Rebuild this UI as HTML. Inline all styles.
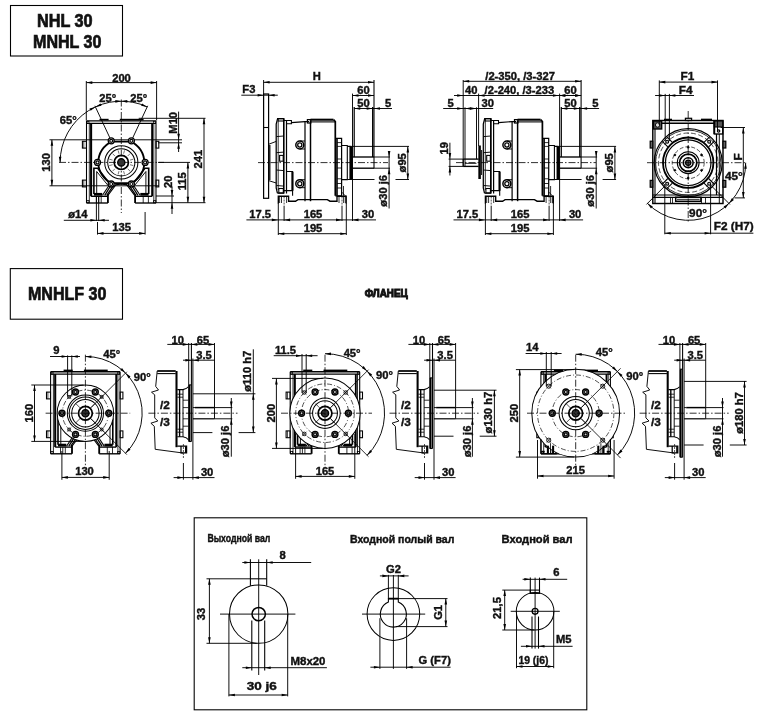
<!DOCTYPE html>
<html><head><meta charset="utf-8"><title>NHL 30</title>
<style>html,body{margin:0;padding:0;background:#fff}svg{display:block;will-change:transform;opacity:0.999}text{font-family:"Liberation Sans",sans-serif}</style>
</head><body>
<svg width="769" height="715" viewBox="0 0 769 715">
<rect x="0" y="0" width="769" height="715" fill="#fff"/>
<rect x="10.5" y="5.5" width="112.0" height="50.5" stroke="#000" stroke-width="1.08" fill="none"/>
<text transform="translate(64.8 27.4)" font-size="18.2" text-anchor="middle" font-weight="bold" fill="#111" stroke="#111" stroke-width="0.7" textLength="55.7" lengthAdjust="spacingAndGlyphs">NHL 30</text>
<text transform="translate(67.2 47.8)" font-size="18.2" text-anchor="middle" font-weight="bold" fill="#111" stroke="#111" stroke-width="0.7" textLength="68.4" lengthAdjust="spacingAndGlyphs">MNHL 30</text>
<line x1="86.3" y1="81.0" x2="86.3" y2="120.5" stroke="#000" stroke-width="0.94"/>
<line x1="156.6" y1="81.0" x2="156.6" y2="120.5" stroke="#000" stroke-width="0.94"/>
<line x1="86.3" y1="82.6" x2="156.6" y2="82.6" stroke="#000" stroke-width="0.94"/>
<polygon points="86.3,82.6 92.3,81.3 92.3,83.9" fill="#000"/>
<polygon points="156.6,82.6 150.6,83.9 150.6,81.3" fill="#000"/>
<text transform="translate(121.5 81.8)" font-size="11.2" text-anchor="middle" font-weight="bold" fill="#111" stroke="#111" stroke-width="0.4">200</text>
<path d="M60.1,162.4 A61.2,61.2 0 0 1 147.2,106.9" stroke="#000" stroke-width="0.94" fill="none"/>
<polygon points="60.1,162.7 58.8,156.7 61.4,156.7" fill="#000"/>
<line x1="110.3" y1="138.8" x2="94.9" y2="105.8" stroke="#000" stroke-width="0.94"/>
<line x1="132.3" y1="138.8" x2="147.7" y2="105.8" stroke="#000" stroke-width="0.94"/>
<polygon points="95.4,106.9 90.7,110.8 89.5,108.5" fill="#000"/>
<polygon points="95.4,106.9 100.5,103.4 101.5,105.8" fill="#000"/>
<polygon points="121.3,101.2 115.3,102.7 115.3,100.1" fill="#000"/>
<polygon points="121.3,101.2 127.3,100.1 127.3,102.7" fill="#000"/>
<polygon points="147.2,106.9 141.1,105.8 142.1,103.4" fill="#000"/>
<text transform="translate(107.8 101.8)" font-size="11.2" text-anchor="middle" font-weight="bold" fill="#111" stroke="#111" stroke-width="0.4">25°</text>
<text transform="translate(138.8 101.8)" font-size="11.2" text-anchor="middle" font-weight="bold" fill="#111" stroke="#111" stroke-width="0.4">25°</text>
<text transform="translate(68.3 123.5)" font-size="11.2" text-anchor="middle" font-weight="bold" fill="#111" stroke="#111" stroke-width="0.4">65°</text>
<line x1="121.3" y1="99.5" x2="121.3" y2="213.0" stroke="#000" stroke-width="0.81" stroke-dasharray="7 2 1.5 2"/>
<line x1="59.0" y1="162.4" x2="164.0" y2="162.4" stroke="#000" stroke-width="0.81" stroke-dasharray="7 2 1.5 2"/>
<line x1="49.5" y1="139.8" x2="182.0" y2="139.8" stroke="#000" stroke-width="0.94"/>
<line x1="49.5" y1="185.8" x2="159.0" y2="185.8" stroke="#000" stroke-width="0.94"/>
<line x1="51.9" y1="139.8" x2="51.9" y2="185.8" stroke="#000" stroke-width="0.94"/>
<polygon points="51.9,139.8 53.2,145.8 50.6,145.8" fill="#000"/>
<polygon points="51.9,185.8 50.6,179.8 53.2,179.8" fill="#000"/>
<text transform="translate(50.0 162.3) rotate(-90)" font-size="11.2" text-anchor="middle" font-weight="bold" fill="#111" stroke="#111" stroke-width="0.4">130</text>
<line x1="158.0" y1="142.8" x2="182.0" y2="142.8" stroke="#000" stroke-width="0.94"/>
<line x1="178.6" y1="111.6" x2="178.6" y2="152.0" stroke="#000" stroke-width="0.94"/>
<polygon points="178.6,139.8 177.3,133.8 179.9,133.8" fill="#000"/>
<polygon points="178.6,142.8 179.9,148.8 177.3,148.8" fill="#000"/>
<text transform="translate(176.8 122.8) rotate(-90)" font-size="11.2" text-anchor="middle" font-weight="bold" fill="#111" stroke="#111" stroke-width="0.4">M10</text>
<line x1="138.7" y1="118.3" x2="205.5" y2="118.3" stroke="#000" stroke-width="0.94"/>
<line x1="156.0" y1="202.7" x2="205.5" y2="202.7" stroke="#000" stroke-width="0.94"/>
<line x1="204.0" y1="118.3" x2="204.0" y2="202.7" stroke="#000" stroke-width="0.94"/>
<polygon points="204.0,118.3 205.3,124.3 202.7,124.3" fill="#000"/>
<polygon points="204.0,202.7 202.7,196.7 205.3,196.7" fill="#000"/>
<text transform="translate(201.8 159.2) rotate(-90)" font-size="11.2" text-anchor="middle" font-weight="bold" fill="#111" stroke="#111" stroke-width="0.4">241</text>
<line x1="158.0" y1="162.4" x2="190.0" y2="162.4" stroke="#000" stroke-width="0.94"/>
<line x1="187.9" y1="162.4" x2="187.9" y2="202.7" stroke="#000" stroke-width="0.94"/>
<polygon points="187.9,162.4 189.2,168.4 186.6,168.4" fill="#000"/>
<polygon points="187.9,202.7 186.6,196.7 189.2,196.7" fill="#000"/>
<text transform="translate(186.4 181.3) rotate(-90)" font-size="11.2" text-anchor="middle" font-weight="bold" fill="#111" stroke="#111" stroke-width="0.4">115</text>
<line x1="156.0" y1="196.0" x2="174.0" y2="196.0" stroke="#000" stroke-width="0.94"/>
<line x1="172.0" y1="186.5" x2="172.0" y2="214.0" stroke="#000" stroke-width="0.94"/>
<polygon points="172.0,196.0 170.7,190.0 173.3,190.0" fill="#000"/>
<polygon points="172.0,202.7 173.3,208.7 170.7,208.7" fill="#000"/>
<text transform="translate(171.6 181.8) rotate(-90)" font-size="11.2" text-anchor="middle" font-weight="bold" fill="#111" stroke="#111" stroke-width="0.4">20</text>
<text transform="translate(77.8 217.9)" font-size="11.2" text-anchor="middle" font-weight="bold" fill="#111" stroke="#111" stroke-width="0.4">ø14</text>
<line x1="63.8" y1="220.3" x2="109.0" y2="220.3" stroke="#000" stroke-width="0.94"/>
<polygon points="96.4,220.3 90.4,221.6 90.4,219.0" fill="#000"/>
<polygon points="98.7,220.3 104.7,219.0 104.7,221.6" fill="#000"/>
<line x1="96.4" y1="196.0" x2="96.4" y2="221.0" stroke="#000" stroke-width="0.94"/>
<line x1="98.7" y1="196.0" x2="98.7" y2="221.0" stroke="#000" stroke-width="0.94"/>
<line x1="97.5" y1="233.4" x2="145.1" y2="233.4" stroke="#000" stroke-width="0.94"/>
<polygon points="97.5,233.4 103.5,232.1 103.5,234.7" fill="#000"/>
<polygon points="145.1,233.4 139.1,234.7 139.1,232.1" fill="#000"/>
<line x1="97.5" y1="222.0" x2="97.5" y2="234.6" stroke="#000" stroke-width="0.94"/>
<line x1="145.1" y1="212.0" x2="145.1" y2="234.6" stroke="#000" stroke-width="0.94"/>
<text transform="translate(121.6 231.4)" font-size="11.2" text-anchor="middle" font-weight="bold" fill="#111" stroke="#111" stroke-width="0.4">135</text>
<line x1="86.5" y1="120.9" x2="156.0" y2="120.9" stroke="#000" stroke-width="1.35"/>
<line x1="86.5" y1="123.3" x2="156.0" y2="123.3" stroke="#000" stroke-width="1.35"/>
<line x1="99.5" y1="119.6" x2="108.6" y2="119.6" stroke="#000" stroke-width="1.61"/>
<line x1="119.8" y1="119.6" x2="143.6" y2="119.6" stroke="#000" stroke-width="1.61"/>
<line x1="86.5" y1="120.9" x2="86.5" y2="203.0" stroke="#000" stroke-width="1.08"/>
<line x1="156.0" y1="120.9" x2="156.0" y2="203.0" stroke="#000" stroke-width="1.08"/>
<line x1="91.1" y1="123.3" x2="91.1" y2="196.3" stroke="#000" stroke-width="2.07"/>
<line x1="152.1" y1="123.3" x2="152.1" y2="196.3" stroke="#000" stroke-width="1.84"/>
<line x1="89.3" y1="123.3" x2="89.3" y2="203.0" stroke="#000" stroke-width="0.81"/>
<line x1="153.8" y1="123.3" x2="153.8" y2="203.0" stroke="#000" stroke-width="0.81"/>
<line x1="86.5" y1="203.0" x2="107.9" y2="203.0" stroke="#000" stroke-width="1.35"/>
<line x1="135.1" y1="203.0" x2="156.0" y2="203.0" stroke="#000" stroke-width="1.35"/>
<line x1="91.1" y1="196.3" x2="107.9" y2="196.3" stroke="#000" stroke-width="1.35"/>
<line x1="135.1" y1="196.3" x2="152.1" y2="196.3" stroke="#000" stroke-width="1.35"/>
<line x1="107.9" y1="194.3" x2="107.9" y2="203.0" stroke="#000" stroke-width="1.84"/>
<line x1="135.1" y1="194.3" x2="135.1" y2="203.0" stroke="#000" stroke-width="1.84"/>
<rect x="86.8" y="200.6" width="2.2" height="2.2" stroke="#000" stroke-width="0.81" fill="none"/>
<rect x="153.6" y="200.6" width="2.2" height="2.2" stroke="#000" stroke-width="0.81" fill="none"/>
<rect x="87.0" y="121.3" width="2.0" height="2.0" stroke="#000" stroke-width="0.68" fill="none"/>
<rect x="153.6" y="121.3" width="2.0" height="2.0" stroke="#000" stroke-width="0.68" fill="none"/>
<line x1="93.9" y1="194.3" x2="102.2" y2="194.3" stroke="#000" stroke-width="2.76"/>
<line x1="140.3" y1="194.3" x2="148.6" y2="194.3" stroke="#000" stroke-width="2.76"/>
<line x1="143.2" y1="196.3" x2="143.2" y2="203.0" stroke="#000" stroke-width="0.81"/>
<line x1="148.4" y1="196.3" x2="148.4" y2="203.0" stroke="#000" stroke-width="0.81"/>
<line x1="96.4" y1="196.3" x2="96.4" y2="203.0" stroke="#000" stroke-width="0.81"/>
<line x1="98.7" y1="196.3" x2="98.7" y2="203.0" stroke="#000" stroke-width="0.81"/>
<line x1="101.2" y1="196.3" x2="101.2" y2="203.0" stroke="#000" stroke-width="0.81"/>
<rect x="82.4" y="141.3" width="4.0" height="6.8" stroke="#000" stroke-width="1.08" fill="none"/>
<rect x="156.0" y="141.3" width="2.8" height="6.8" stroke="#000" stroke-width="1.08" fill="none"/>
<line x1="83.8" y1="141.3" x2="83.8" y2="148.1" stroke="#000" stroke-width="0.68"/>
<rect x="82.4" y="180.1" width="4.0" height="6.8" stroke="#000" stroke-width="1.08" fill="none"/>
<rect x="156.0" y="180.1" width="2.8" height="6.8" stroke="#000" stroke-width="1.08" fill="none"/>
<line x1="83.8" y1="180.1" x2="83.8" y2="186.9" stroke="#000" stroke-width="0.68"/>
<path d="M93.9,194.0 L93.9,168.2 L97.7,168.2 L108.3,182.0" stroke="#000" stroke-width="1.61" fill="none"/>
<path d="M96.7,194.0 L96.7,171.5 L107.8,185.2" stroke="#000" stroke-width="0.94" fill="none"/>
<path d="M111.8,184.0 L104.7,195.3" stroke="#000" stroke-width="1.26" fill="none"/>
<path d="M110.0,184.0 L102.5,195.3" stroke="#000" stroke-width="1.08" fill="none"/>
<path d="M113.7,185.2 L106.7,195.3" stroke="#000" stroke-width="1.26" fill="none"/>
<path d="M115.6,185.2 L107.9,195.3" stroke="#000" stroke-width="1.08" fill="none"/>
<path d="M115.5,185.2 L116.8,183.3" stroke="#000" stroke-width="1.08" fill="none"/>
<path d="M148.7,194.0 L148.7,168.2 L144.9,168.2 L134.3,182.0" stroke="#000" stroke-width="1.61" fill="none"/>
<path d="M145.9,194.0 L145.9,171.5 L134.8,185.2" stroke="#000" stroke-width="0.94" fill="none"/>
<path d="M130.8,184.0 L137.9,195.3" stroke="#000" stroke-width="1.26" fill="none"/>
<path d="M132.6,184.0 L140.1,195.3" stroke="#000" stroke-width="1.08" fill="none"/>
<path d="M128.9,185.2 L135.9,195.3" stroke="#000" stroke-width="1.26" fill="none"/>
<path d="M127.0,185.2 L134.7,195.3" stroke="#000" stroke-width="1.08" fill="none"/>
<path d="M127.1,185.2 L125.8,183.3" stroke="#000" stroke-width="1.08" fill="none"/>
<path d="M115.3,185.0 Q121.3,183.2 127.3,185.0" stroke="#000" stroke-width="1.08" fill="none"/>
<path d="M111.6,141.6 L131.0,141.6 A23.0,23.0 0 0 1 144.3,162.4 A23.0,23.0 0 0 1 131.0,183.2 L111.6,183.2 A23.0,23.0 0 0 1 98.3,162.4 A23.0,23.0 0 0 1 111.6,141.6 Z" stroke="#000" stroke-width="1.84" fill="none"/>
<circle cx="121.3" cy="162.4" r="16.6" stroke="#000" stroke-width="1.01" fill="none"/>
<circle cx="121.3" cy="162.4" r="13.6" stroke="#000" stroke-width="1.01" fill="none"/>
<circle cx="121.3" cy="162.4" r="7.1" stroke="#000" stroke-width="1.72" fill="none"/>
<circle cx="121.3" cy="162.4" r="3.6" stroke="#000" stroke-width="1.35" fill="#333"/>
<line x1="130.0" y1="164.7" x2="133.3" y2="165.6" stroke="#000" stroke-width="0.54"/>
<line x1="127.7" y1="168.8" x2="130.1" y2="171.2" stroke="#000" stroke-width="0.54"/>
<line x1="123.6" y1="171.1" x2="124.5" y2="174.4" stroke="#000" stroke-width="0.54"/>
<line x1="119.0" y1="171.1" x2="118.1" y2="174.4" stroke="#000" stroke-width="0.54"/>
<line x1="114.9" y1="168.8" x2="112.5" y2="171.2" stroke="#000" stroke-width="0.54"/>
<line x1="112.6" y1="164.7" x2="109.3" y2="165.6" stroke="#000" stroke-width="0.54"/>
<line x1="112.6" y1="160.1" x2="109.3" y2="159.2" stroke="#000" stroke-width="0.54"/>
<line x1="114.9" y1="156.0" x2="112.5" y2="153.6" stroke="#000" stroke-width="0.54"/>
<line x1="119.0" y1="153.7" x2="118.1" y2="150.4" stroke="#000" stroke-width="0.54"/>
<line x1="123.6" y1="153.7" x2="124.5" y2="150.4" stroke="#000" stroke-width="0.54"/>
<line x1="127.7" y1="156.0" x2="130.1" y2="153.6" stroke="#000" stroke-width="0.54"/>
<line x1="130.0" y1="160.1" x2="133.3" y2="159.2" stroke="#000" stroke-width="0.54"/>
<circle cx="145.1" cy="162.4" r="3.0" stroke="#000" stroke-width="1.26" fill="#fff"/>
<circle cx="145.1" cy="162.4" r="1.5" stroke="#000" stroke-width="1.22" fill="none"/>
<circle cx="97.5" cy="162.4" r="3.0" stroke="#000" stroke-width="1.26" fill="#fff"/>
<circle cx="97.5" cy="162.4" r="1.5" stroke="#000" stroke-width="1.22" fill="none"/>
<circle cx="131.4" cy="140.8" r="3.0" stroke="#000" stroke-width="1.26" fill="#fff"/>
<circle cx="131.4" cy="140.8" r="1.5" stroke="#000" stroke-width="1.22" fill="none"/>
<circle cx="111.2" cy="140.8" r="3.0" stroke="#000" stroke-width="1.26" fill="#fff"/>
<circle cx="111.2" cy="140.8" r="1.5" stroke="#000" stroke-width="1.22" fill="none"/>
<circle cx="131.4" cy="184.0" r="3.0" stroke="#000" stroke-width="1.26" fill="#fff"/>
<circle cx="131.4" cy="184.0" r="1.5" stroke="#000" stroke-width="1.22" fill="none"/>
<circle cx="111.2" cy="184.0" r="3.0" stroke="#000" stroke-width="1.26" fill="#fff"/>
<circle cx="111.2" cy="184.0" r="1.5" stroke="#000" stroke-width="1.22" fill="none"/>
<path d="M277.4,193.2 L276.2,188.0 L276.2,124.0 L277.6,118.7 L283.7,118.7 L283.7,193.2 L277.4,193.2" stroke="#000" stroke-width="1.26" fill="none"/>
<line x1="278.2" y1="121.0" x2="278.2" y2="190.0" stroke="#000" stroke-width="0.81"/>
<rect x="278.2" y="118.7" width="5.5" height="2.3" stroke="#000" stroke-width="1.08" fill="none"/>
<rect x="278.8" y="188.5" width="4.5" height="4.5" stroke="#000" stroke-width="1.08" fill="none"/>
<line x1="276.4" y1="136.6" x2="283.7" y2="136.0" stroke="#000" stroke-width="0.94"/>
<line x1="276.4" y1="152.7" x2="283.7" y2="152.1" stroke="#000" stroke-width="0.94"/>
<line x1="276.4" y1="170.0" x2="283.7" y2="170.6" stroke="#000" stroke-width="0.94"/>
<line x1="276.4" y1="185.5" x2="283.7" y2="186.1" stroke="#000" stroke-width="0.94"/>
<rect x="279.6" y="155.4" width="3.6" height="5.8" stroke="#000" stroke-width="1.08" fill="none"/>
<line x1="283.7" y1="118.7" x2="283.7" y2="193.2" stroke="#000" stroke-width="1.38"/>
<line x1="286.5" y1="120.5" x2="286.5" y2="193.5" stroke="#000" stroke-width="1.22"/>
<path d="M283.7,120.5 L291.4,120.5 L291.4,123.8 L286.5,123.8" stroke="#000" stroke-width="1.08" fill="none"/>
<path d="M291.4,122.6 L305.0,121.6 L309.0,121.6" stroke="#000" stroke-width="1.08" fill="none"/>
<line x1="305.0" y1="121.4" x2="305.0" y2="201.2" stroke="#000" stroke-width="1.22"/>
<line x1="310.5" y1="120.5" x2="310.5" y2="201.2" stroke="#000" stroke-width="1.49"/>
<rect x="307.4" y="119.6" width="3.4" height="3.4" stroke="#000" stroke-width="1.22" fill="none"/>
<line x1="310.5" y1="119.7" x2="333.5" y2="119.7" stroke="#000" stroke-width="2.07"/>
<line x1="310.5" y1="121.9" x2="335.0" y2="121.9" stroke="#000" stroke-width="1.08"/>
<path d="M333.5,119.7 L335.3,121.5 L335.3,195.8" stroke="#000" stroke-width="1.72" fill="none"/>
<circle cx="299.8" cy="145.0" r="4.0" stroke="#000" stroke-width="1.49" fill="none"/>
<circle cx="299.8" cy="145.0" r="2.1" stroke="#000" stroke-width="1.26" fill="none"/>
<line x1="299.8" y1="141.0" x2="305.0" y2="141.0" stroke="#000" stroke-width="0.94"/>
<line x1="299.8" y1="149.0" x2="305.0" y2="149.0" stroke="#000" stroke-width="0.94"/>
<circle cx="299.8" cy="183.7" r="4.0" stroke="#000" stroke-width="1.49" fill="none"/>
<circle cx="299.8" cy="183.7" r="2.1" stroke="#000" stroke-width="1.26" fill="none"/>
<line x1="299.8" y1="179.7" x2="305.0" y2="179.7" stroke="#000" stroke-width="0.94"/>
<line x1="299.8" y1="187.7" x2="305.0" y2="187.7" stroke="#000" stroke-width="0.94"/>
<path d="M286.5,171.5 L292.6,171.5 L292.6,190.6" stroke="#000" stroke-width="1.22" fill="none"/>
<line x1="292.4" y1="172.0" x2="292.4" y2="190.6" stroke="#000" stroke-width="2.07"/>
<path d="M283.7,190.6 L292.6,190.6 L292.6,195.8" stroke="#000" stroke-width="1.08" fill="none"/>
<path d="M278.3,203.4 L278.3,196.2 L288.6,196.2 L288.6,201.2 L295.5,201.2 L298.0,199.6 L327.3,199.6 L330.0,201.2 L337.0,201.2 L337.0,196.2 L346.2,196.2 L346.2,203.4" stroke="#000" stroke-width="1.35" fill="none"/>
<line x1="279.6" y1="196.2" x2="279.6" y2="203.0" stroke="#000" stroke-width="0.81"/>
<line x1="281.5" y1="196.2" x2="281.5" y2="203.0" stroke="#000" stroke-width="0.81"/>
<line x1="286.6" y1="196.2" x2="286.6" y2="203.0" stroke="#000" stroke-width="0.81"/>
<line x1="339.0" y1="196.2" x2="339.0" y2="203.0" stroke="#000" stroke-width="0.81"/>
<line x1="343.6" y1="196.2" x2="343.6" y2="203.0" stroke="#000" stroke-width="0.81"/>
<line x1="345.3" y1="196.2" x2="345.3" y2="203.0" stroke="#000" stroke-width="0.81"/>
<line x1="284.1" y1="196.5" x2="284.1" y2="206.0" stroke="#000" stroke-width="0.68" stroke-dasharray="2 1"/>
<line x1="342.0" y1="196.5" x2="342.0" y2="206.0" stroke="#000" stroke-width="0.68" stroke-dasharray="2 1"/>
<path d="M335.3,138.3 L341.6,138.3 L341.6,195.8 L335.3,195.8" stroke="#000" stroke-width="1.22" fill="none"/>
<line x1="337.0" y1="138.3" x2="337.0" y2="195.8" stroke="#000" stroke-width="1.61"/>
<line x1="337.0" y1="142.6" x2="341.6" y2="142.6" stroke="#000" stroke-width="0.81"/>
<line x1="337.0" y1="146.4" x2="341.6" y2="146.4" stroke="#000" stroke-width="0.81"/>
<line x1="337.0" y1="159.0" x2="341.6" y2="159.0" stroke="#000" stroke-width="0.81"/>
<line x1="337.0" y1="168.0" x2="341.6" y2="168.0" stroke="#000" stroke-width="0.81"/>
<line x1="337.0" y1="178.8" x2="341.6" y2="178.8" stroke="#000" stroke-width="0.81"/>
<line x1="337.0" y1="183.5" x2="341.6" y2="183.5" stroke="#000" stroke-width="0.81"/>
<line x1="337.0" y1="188.0" x2="341.6" y2="188.0" stroke="#000" stroke-width="0.81"/>
<path d="M341.6,145.5 L347.3,145.5 L347.3,179.6 L341.6,179.6" stroke="#000" stroke-width="1.08" fill="none"/>
<path d="M347.3,146.4 L350.0,146.4 L350.0,179.5 L347.3,179.5" stroke="#000" stroke-width="1.08" fill="none"/>
<line x1="351.3" y1="146.4" x2="351.3" y2="179.5" stroke="#000" stroke-width="2.76"/>
<line x1="343.5" y1="186.0" x2="343.5" y2="195.8" stroke="#000" stroke-width="0.81"/>
<line x1="341.6" y1="192.0" x2="345.5" y2="196.0" stroke="#000" stroke-width="0.81"/>
<line x1="352.5" y1="157.0" x2="374.0" y2="157.0" stroke="#000" stroke-width="1.35"/>
<line x1="352.5" y1="168.2" x2="374.0" y2="168.2" stroke="#000" stroke-width="1.35"/>
<line x1="374.0" y1="146.4" x2="374.0" y2="168.2" stroke="#000" stroke-width="1.08"/>
<rect x="263.6" y="94.0" width="5.0" height="104.3" stroke="#000" stroke-width="1.22" fill="none"/>
<line x1="263.6" y1="127.5" x2="268.6" y2="127.5" stroke="#000" stroke-width="1.08"/>
<line x1="269.8" y1="145.0" x2="269.8" y2="180.0" stroke="#000" stroke-width="1.26"/>
<line x1="268.6" y1="144.3" x2="276.2" y2="141.4" stroke="#000" stroke-width="0.94"/>
<line x1="268.6" y1="180.6" x2="276.2" y2="183.0" stroke="#000" stroke-width="0.94"/>
<line x1="258.0" y1="162.6" x2="388.0" y2="162.6" stroke="#000" stroke-width="0.81" stroke-dasharray="7 2 1.5 2"/>
<line x1="263.6" y1="80.0" x2="263.6" y2="94.0" stroke="#000" stroke-width="0.94"/>
<line x1="263.6" y1="82.3" x2="374.0" y2="82.3" stroke="#000" stroke-width="0.94"/>
<polygon points="263.6,82.3 269.6,81.0 269.6,83.6" fill="#000"/>
<polygon points="374.0,82.3 368.0,83.6 368.0,81.0" fill="#000"/>
<text transform="translate(316.9 79.8)" font-size="11.2" text-anchor="middle" font-weight="bold" fill="#111" stroke="#111" stroke-width="0.4">H</text>
<line x1="241.3" y1="95.2" x2="277.8" y2="95.2" stroke="#000" stroke-width="0.94"/>
<polygon points="263.6,95.2 257.6,96.5 257.6,93.9" fill="#000"/>
<polygon points="268.6,95.2 274.6,93.9 274.6,96.5" fill="#000"/>
<text transform="translate(248.9 92.7)" font-size="11.2" text-anchor="middle" font-weight="bold" fill="#111" stroke="#111" stroke-width="0.4">F3</text>
<line x1="374.0" y1="80.0" x2="374.0" y2="146.4" stroke="#000" stroke-width="1.08"/>
<line x1="372.7" y1="107.0" x2="372.7" y2="157.0" stroke="#000" stroke-width="1.35"/>
<line x1="352.5" y1="93.6" x2="352.5" y2="221.0" stroke="#000" stroke-width="0.94"/>
<line x1="354.2" y1="107.0" x2="354.2" y2="157.0" stroke="#000" stroke-width="1.22"/>
<line x1="352.5" y1="95.5" x2="374.0" y2="95.5" stroke="#000" stroke-width="0.94"/>
<polygon points="352.5,95.5 358.5,94.2 358.5,96.8" fill="#000"/>
<polygon points="374.0,95.5 368.0,96.8 368.0,94.2" fill="#000"/>
<text transform="translate(363.4 93.9)" font-size="11.2" text-anchor="middle" font-weight="bold" fill="#111" stroke="#111" stroke-width="0.4">60</text>
<line x1="354.2" y1="108.5" x2="392.0" y2="108.5" stroke="#000" stroke-width="0.94"/>
<polygon points="354.2,108.5 360.2,107.2 360.2,109.8" fill="#000"/>
<polygon points="372.7,108.5 366.7,109.8 366.7,107.2" fill="#000"/>
<polygon points="374.0,108.5 380.0,107.2 380.0,109.8" fill="#000"/>
<text transform="translate(363.4 107.1)" font-size="11.2" text-anchor="middle" font-weight="bold" fill="#111" stroke="#111" stroke-width="0.4">50</text>
<text transform="translate(388.2 107.1)" font-size="11.2" text-anchor="middle" font-weight="bold" fill="#111" stroke="#111" stroke-width="0.4">5</text>
<line x1="350.0" y1="146.4" x2="409.0" y2="146.4" stroke="#000" stroke-width="0.94"/>
<line x1="395.5" y1="179.5" x2="409.0" y2="179.5" stroke="#000" stroke-width="0.94"/>
<line x1="350.0" y1="179.5" x2="374.5" y2="179.5" stroke="#000" stroke-width="0.94"/>
<line x1="407.8" y1="146.4" x2="407.8" y2="179.5" stroke="#000" stroke-width="0.94"/>
<polygon points="407.8,146.4 409.1,152.4 406.5,152.4" fill="#000"/>
<polygon points="407.8,179.5 406.5,173.5 409.1,173.5" fill="#000"/>
<text transform="translate(406.2 162.8) rotate(-90)" font-size="11.2" text-anchor="middle" font-weight="bold" fill="#111" stroke="#111" stroke-width="0.4">ø95</text>
<line x1="374.0" y1="157.0" x2="390.0" y2="157.0" stroke="#000" stroke-width="0.94"/>
<line x1="374.0" y1="168.2" x2="390.0" y2="168.2" stroke="#000" stroke-width="0.94"/>
<line x1="389.1" y1="151.0" x2="389.1" y2="208.5" stroke="#000" stroke-width="0.94"/>
<polygon points="389.1,157.0 387.8,151.0 390.4,151.0" fill="#000"/>
<polygon points="389.1,168.2 390.4,174.2 387.8,174.2" fill="#000"/>
<text transform="translate(387.2 190.8) rotate(-90)" font-size="11.2" text-anchor="middle" font-weight="bold" fill="#111" stroke="#111" stroke-width="0.4">ø30 j6</text>
<line x1="246.4" y1="219.9" x2="376.0" y2="219.9" stroke="#000" stroke-width="0.94"/>
<polygon points="277.8,219.9 271.8,221.2 271.8,218.6" fill="#000"/>
<polygon points="284.1,219.9 290.1,218.6 290.1,221.2" fill="#000"/>
<polygon points="342.0,219.9 336.0,221.2 336.0,218.6" fill="#000"/>
<polygon points="352.5,219.9 358.5,218.6 358.5,221.2" fill="#000"/>
<text transform="translate(260.2 218.1)" font-size="11.2" text-anchor="middle" font-weight="bold" fill="#111" stroke="#111" stroke-width="0.4">17.5</text>
<text transform="translate(313.0 218.1)" font-size="11.2" text-anchor="middle" font-weight="bold" fill="#111" stroke="#111" stroke-width="0.4">165</text>
<text transform="translate(368.0 218.1)" font-size="11.2" text-anchor="middle" font-weight="bold" fill="#111" stroke="#111" stroke-width="0.4">30</text>
<line x1="278.3" y1="203.0" x2="278.3" y2="235.0" stroke="#000" stroke-width="0.94"/>
<line x1="346.3" y1="203.0" x2="346.3" y2="235.0" stroke="#000" stroke-width="0.94"/>
<line x1="284.1" y1="206.0" x2="284.1" y2="221.0" stroke="#000" stroke-width="0.94"/>
<line x1="342.0" y1="206.0" x2="342.0" y2="221.0" stroke="#000" stroke-width="0.94"/>
<line x1="278.3" y1="233.7" x2="346.3" y2="233.7" stroke="#000" stroke-width="0.94"/>
<polygon points="278.3,233.7 284.3,232.4 284.3,235.0" fill="#000"/>
<polygon points="346.3,233.7 340.3,235.0 340.3,232.4" fill="#000"/>
<text transform="translate(313.0 231.7)" font-size="11.2" text-anchor="middle" font-weight="bold" fill="#111" stroke="#111" stroke-width="0.4">195</text>
<path d="M484.5,193.2 L483.3,188.0 L483.3,124.0 L484.7,118.7 L490.8,118.7 L490.8,193.2 L484.5,193.2" stroke="#000" stroke-width="1.26" fill="none"/>
<line x1="485.3" y1="121.0" x2="485.3" y2="190.0" stroke="#000" stroke-width="0.81"/>
<rect x="485.3" y="118.7" width="5.5" height="2.3" stroke="#000" stroke-width="1.08" fill="none"/>
<rect x="485.9" y="188.5" width="4.5" height="4.5" stroke="#000" stroke-width="1.08" fill="none"/>
<line x1="483.5" y1="136.6" x2="490.8" y2="136.0" stroke="#000" stroke-width="0.94"/>
<line x1="483.5" y1="152.7" x2="490.8" y2="152.1" stroke="#000" stroke-width="0.94"/>
<line x1="483.5" y1="170.0" x2="490.8" y2="170.6" stroke="#000" stroke-width="0.94"/>
<line x1="483.5" y1="185.5" x2="490.8" y2="186.1" stroke="#000" stroke-width="0.94"/>
<rect x="486.7" y="155.4" width="3.6" height="5.8" stroke="#000" stroke-width="1.08" fill="none"/>
<line x1="490.8" y1="118.7" x2="490.8" y2="193.2" stroke="#000" stroke-width="1.38"/>
<line x1="493.6" y1="120.5" x2="493.6" y2="193.5" stroke="#000" stroke-width="1.22"/>
<path d="M490.8,120.5 L498.5,120.5 L498.5,123.8 L493.6,123.8" stroke="#000" stroke-width="1.08" fill="none"/>
<path d="M498.5,122.6 L512.1,121.6 L516.1,121.6" stroke="#000" stroke-width="1.08" fill="none"/>
<line x1="512.1" y1="121.4" x2="512.1" y2="201.2" stroke="#000" stroke-width="1.22"/>
<line x1="517.6" y1="120.5" x2="517.6" y2="201.2" stroke="#000" stroke-width="1.49"/>
<rect x="514.5" y="119.6" width="3.4" height="3.4" stroke="#000" stroke-width="1.22" fill="none"/>
<line x1="517.6" y1="119.7" x2="540.6" y2="119.7" stroke="#000" stroke-width="2.07"/>
<line x1="517.6" y1="121.9" x2="542.1" y2="121.9" stroke="#000" stroke-width="1.08"/>
<path d="M540.6,119.7 L542.4,121.5 L542.4,195.8" stroke="#000" stroke-width="1.72" fill="none"/>
<circle cx="506.9" cy="145.0" r="4.0" stroke="#000" stroke-width="1.49" fill="none"/>
<circle cx="506.9" cy="145.0" r="2.1" stroke="#000" stroke-width="1.26" fill="none"/>
<line x1="506.9" y1="141.0" x2="512.1" y2="141.0" stroke="#000" stroke-width="0.94"/>
<line x1="506.9" y1="149.0" x2="512.1" y2="149.0" stroke="#000" stroke-width="0.94"/>
<circle cx="506.9" cy="183.7" r="4.0" stroke="#000" stroke-width="1.49" fill="none"/>
<circle cx="506.9" cy="183.7" r="2.1" stroke="#000" stroke-width="1.26" fill="none"/>
<line x1="506.9" y1="179.7" x2="512.1" y2="179.7" stroke="#000" stroke-width="0.94"/>
<line x1="506.9" y1="187.7" x2="512.1" y2="187.7" stroke="#000" stroke-width="0.94"/>
<path d="M493.6,171.5 L499.7,171.5 L499.7,190.6" stroke="#000" stroke-width="1.22" fill="none"/>
<line x1="499.5" y1="172.0" x2="499.5" y2="190.6" stroke="#000" stroke-width="2.07"/>
<path d="M490.8,190.6 L499.7,190.6 L499.7,195.8" stroke="#000" stroke-width="1.08" fill="none"/>
<path d="M485.4,203.4 L485.4,196.2 L495.7,196.2 L495.7,201.2 L502.6,201.2 L505.1,199.6 L534.4,199.6 L537.1,201.2 L544.1,201.2 L544.1,196.2 L553.3,196.2 L553.3,203.4" stroke="#000" stroke-width="1.35" fill="none"/>
<line x1="486.7" y1="196.2" x2="486.7" y2="203.0" stroke="#000" stroke-width="0.81"/>
<line x1="488.6" y1="196.2" x2="488.6" y2="203.0" stroke="#000" stroke-width="0.81"/>
<line x1="493.7" y1="196.2" x2="493.7" y2="203.0" stroke="#000" stroke-width="0.81"/>
<line x1="546.1" y1="196.2" x2="546.1" y2="203.0" stroke="#000" stroke-width="0.81"/>
<line x1="550.7" y1="196.2" x2="550.7" y2="203.0" stroke="#000" stroke-width="0.81"/>
<line x1="552.4" y1="196.2" x2="552.4" y2="203.0" stroke="#000" stroke-width="0.81"/>
<line x1="491.2" y1="196.5" x2="491.2" y2="206.0" stroke="#000" stroke-width="0.68" stroke-dasharray="2 1"/>
<line x1="549.1" y1="196.5" x2="549.1" y2="206.0" stroke="#000" stroke-width="0.68" stroke-dasharray="2 1"/>
<path d="M542.4,138.3 L548.7,138.3 L548.7,195.8 L542.4,195.8" stroke="#000" stroke-width="1.22" fill="none"/>
<line x1="544.1" y1="138.3" x2="544.1" y2="195.8" stroke="#000" stroke-width="1.61"/>
<line x1="544.1" y1="142.6" x2="548.7" y2="142.6" stroke="#000" stroke-width="0.81"/>
<line x1="544.1" y1="146.4" x2="548.7" y2="146.4" stroke="#000" stroke-width="0.81"/>
<line x1="544.1" y1="159.0" x2="548.7" y2="159.0" stroke="#000" stroke-width="0.81"/>
<line x1="544.1" y1="168.0" x2="548.7" y2="168.0" stroke="#000" stroke-width="0.81"/>
<line x1="544.1" y1="178.8" x2="548.7" y2="178.8" stroke="#000" stroke-width="0.81"/>
<line x1="544.1" y1="183.5" x2="548.7" y2="183.5" stroke="#000" stroke-width="0.81"/>
<line x1="544.1" y1="188.0" x2="548.7" y2="188.0" stroke="#000" stroke-width="0.81"/>
<path d="M548.7,145.5 L554.4,145.5 L554.4,179.6 L548.7,179.6" stroke="#000" stroke-width="1.08" fill="none"/>
<path d="M554.4,146.4 L557.1,146.4 L557.1,179.5 L554.4,179.5" stroke="#000" stroke-width="1.08" fill="none"/>
<line x1="558.4" y1="146.4" x2="558.4" y2="179.5" stroke="#000" stroke-width="2.76"/>
<line x1="550.6" y1="186.0" x2="550.6" y2="195.8" stroke="#000" stroke-width="0.81"/>
<line x1="548.7" y1="192.0" x2="552.6" y2="196.0" stroke="#000" stroke-width="0.81"/>
<line x1="559.6" y1="157.0" x2="581.1" y2="157.0" stroke="#000" stroke-width="1.35"/>
<line x1="559.6" y1="168.2" x2="581.1" y2="168.2" stroke="#000" stroke-width="1.35"/>
<line x1="581.1" y1="146.4" x2="581.1" y2="168.2" stroke="#000" stroke-width="1.08"/>
<line x1="581.1" y1="80.0" x2="581.1" y2="146.4" stroke="#000" stroke-width="1.08"/>
<line x1="579.8" y1="107.0" x2="579.8" y2="157.0" stroke="#000" stroke-width="1.35"/>
<line x1="559.6" y1="93.6" x2="559.6" y2="221.0" stroke="#000" stroke-width="0.94"/>
<line x1="561.3" y1="107.0" x2="561.3" y2="157.0" stroke="#000" stroke-width="1.22"/>
<line x1="559.6" y1="95.5" x2="581.1" y2="95.5" stroke="#000" stroke-width="0.94"/>
<polygon points="559.6,95.5 565.6,94.2 565.6,96.8" fill="#000"/>
<polygon points="581.1,95.5 575.1,96.8 575.1,94.2" fill="#000"/>
<text transform="translate(570.5 93.9)" font-size="11.2" text-anchor="middle" font-weight="bold" fill="#111" stroke="#111" stroke-width="0.4">60</text>
<line x1="561.3" y1="108.5" x2="599.1" y2="108.5" stroke="#000" stroke-width="0.94"/>
<polygon points="561.3,108.5 567.3,107.2 567.3,109.8" fill="#000"/>
<polygon points="579.8,108.5 573.8,109.8 573.8,107.2" fill="#000"/>
<polygon points="581.1,108.5 587.1,107.2 587.1,109.8" fill="#000"/>
<text transform="translate(570.5 107.1)" font-size="11.2" text-anchor="middle" font-weight="bold" fill="#111" stroke="#111" stroke-width="0.4">50</text>
<text transform="translate(595.3 107.1)" font-size="11.2" text-anchor="middle" font-weight="bold" fill="#111" stroke="#111" stroke-width="0.4">5</text>
<line x1="557.1" y1="146.4" x2="616.1" y2="146.4" stroke="#000" stroke-width="0.94"/>
<line x1="602.6" y1="179.5" x2="616.1" y2="179.5" stroke="#000" stroke-width="0.94"/>
<line x1="557.1" y1="179.5" x2="581.6" y2="179.5" stroke="#000" stroke-width="0.94"/>
<line x1="614.9" y1="146.4" x2="614.9" y2="179.5" stroke="#000" stroke-width="0.94"/>
<polygon points="614.9,146.4 616.2,152.4 613.6,152.4" fill="#000"/>
<polygon points="614.9,179.5 613.6,173.5 616.2,173.5" fill="#000"/>
<text transform="translate(613.3 162.8) rotate(-90)" font-size="11.2" text-anchor="middle" font-weight="bold" fill="#111" stroke="#111" stroke-width="0.4">ø95</text>
<line x1="581.1" y1="157.0" x2="597.1" y2="157.0" stroke="#000" stroke-width="0.94"/>
<line x1="581.1" y1="168.2" x2="597.1" y2="168.2" stroke="#000" stroke-width="0.94"/>
<line x1="596.2" y1="151.0" x2="596.2" y2="208.5" stroke="#000" stroke-width="0.94"/>
<polygon points="596.2,157.0 594.9,151.0 597.5,151.0" fill="#000"/>
<polygon points="596.2,168.2 597.5,174.2 594.9,174.2" fill="#000"/>
<text transform="translate(594.3 190.8) rotate(-90)" font-size="11.2" text-anchor="middle" font-weight="bold" fill="#111" stroke="#111" stroke-width="0.4">ø30 j6</text>
<line x1="453.5" y1="219.9" x2="583.1" y2="219.9" stroke="#000" stroke-width="0.94"/>
<polygon points="484.9,219.9 478.9,221.2 478.9,218.6" fill="#000"/>
<polygon points="491.2,219.9 497.2,218.6 497.2,221.2" fill="#000"/>
<polygon points="549.1,219.9 543.1,221.2 543.1,218.6" fill="#000"/>
<polygon points="559.6,219.9 565.6,218.6 565.6,221.2" fill="#000"/>
<text transform="translate(467.3 218.1)" font-size="11.2" text-anchor="middle" font-weight="bold" fill="#111" stroke="#111" stroke-width="0.4">17.5</text>
<text transform="translate(520.1 218.1)" font-size="11.2" text-anchor="middle" font-weight="bold" fill="#111" stroke="#111" stroke-width="0.4">165</text>
<text transform="translate(575.1 218.1)" font-size="11.2" text-anchor="middle" font-weight="bold" fill="#111" stroke="#111" stroke-width="0.4">30</text>
<line x1="485.4" y1="203.0" x2="485.4" y2="235.0" stroke="#000" stroke-width="0.94"/>
<line x1="553.4" y1="203.0" x2="553.4" y2="235.0" stroke="#000" stroke-width="0.94"/>
<line x1="491.2" y1="206.0" x2="491.2" y2="221.0" stroke="#000" stroke-width="0.94"/>
<line x1="549.1" y1="206.0" x2="549.1" y2="221.0" stroke="#000" stroke-width="0.94"/>
<line x1="485.4" y1="233.7" x2="553.4" y2="233.7" stroke="#000" stroke-width="0.94"/>
<polygon points="485.4,233.7 491.4,232.4 491.4,235.0" fill="#000"/>
<polygon points="553.4,233.7 547.4,235.0 547.4,232.4" fill="#000"/>
<text transform="translate(520.1 231.7)" font-size="11.2" text-anchor="middle" font-weight="bold" fill="#111" stroke="#111" stroke-width="0.4">195</text>
<line x1="479.6" y1="145.5" x2="479.6" y2="179.0" stroke="#000" stroke-width="2.53"/>
<line x1="481.6" y1="150.0" x2="481.6" y2="175.0" stroke="#000" stroke-width="0.94"/>
<line x1="463.2" y1="159.1" x2="478.6" y2="159.1" stroke="#000" stroke-width="1.35"/>
<line x1="463.2" y1="166.4" x2="478.6" y2="166.4" stroke="#000" stroke-width="1.35"/>
<line x1="463.2" y1="159.1" x2="463.2" y2="166.4" stroke="#000" stroke-width="1.08"/>
<line x1="465.0" y1="163.4" x2="476.5" y2="163.4" stroke="#000" stroke-width="0.81"/>
<line x1="448.6" y1="159.1" x2="463.2" y2="159.1" stroke="#000" stroke-width="0.94"/>
<line x1="448.6" y1="166.4" x2="463.2" y2="166.4" stroke="#000" stroke-width="0.94"/>
<line x1="456.0" y1="162.6" x2="596.0" y2="162.6" stroke="#000" stroke-width="0.81" stroke-dasharray="7 2 1.5 2"/>
<line x1="449.9" y1="142.7" x2="449.9" y2="175.5" stroke="#000" stroke-width="0.94"/>
<polygon points="449.9,159.1 448.6,153.1 451.2,153.1" fill="#000"/>
<polygon points="449.9,166.4 451.2,172.4 448.6,172.4" fill="#000"/>
<text transform="translate(448.0 148.2) rotate(-90)" font-size="11.2" text-anchor="middle" font-weight="bold" fill="#111" stroke="#111" stroke-width="0.4">19</text>
<line x1="463.2" y1="80.0" x2="463.2" y2="166.4" stroke="#000" stroke-width="0.94"/>
<line x1="465.0" y1="107.3" x2="465.0" y2="166.4" stroke="#000" stroke-width="0.94"/>
<line x1="476.5" y1="107.3" x2="476.5" y2="159.1" stroke="#000" stroke-width="0.94"/>
<line x1="478.6" y1="93.6" x2="478.6" y2="146.0" stroke="#000" stroke-width="0.94"/>
<line x1="463.2" y1="81.3" x2="581.1" y2="81.3" stroke="#000" stroke-width="0.94"/>
<polygon points="463.2,81.3 469.2,80.0 469.2,82.6" fill="#000"/>
<polygon points="581.1,81.3 575.1,82.6 575.1,80.0" fill="#000"/>
<text transform="translate(520.1 79.6)" font-size="11.2" text-anchor="middle" font-weight="bold" fill="#111" stroke="#111" stroke-width="0.4">/2-350, /3-327</text>
<line x1="454.0" y1="95.5" x2="581.1" y2="95.5" stroke="#000" stroke-width="0.94"/>
<polygon points="463.2,95.5 457.2,96.8 457.2,94.2" fill="#000"/>
<polygon points="478.6,95.5 484.6,94.2 484.6,96.8" fill="#000"/>
<polygon points="558.9,95.5 564.9,94.2 564.9,96.8" fill="#000"/>
<polygon points="558.9,95.5 552.9,96.8 552.9,94.2" fill="#000"/>
<polygon points="581.1,95.5 575.1,96.8 575.1,94.2" fill="#000"/>
<text transform="translate(471.2 93.6)" font-size="11.2" text-anchor="middle" font-weight="bold" fill="#111" stroke="#111" stroke-width="0.4">40</text>
<text transform="translate(519.4 93.6)" font-size="11.2" text-anchor="middle" font-weight="bold" fill="#111" stroke="#111" stroke-width="0.4">/2-240, /3-233</text>
<line x1="443.2" y1="108.5" x2="493.2" y2="108.5" stroke="#000" stroke-width="0.94"/>
<polygon points="463.2,108.5 457.2,109.8 457.2,107.2" fill="#000"/>
<polygon points="465.0,108.5 471.0,107.2 471.0,109.8" fill="#000"/>
<polygon points="476.5,108.5 470.5,109.8 470.5,107.2" fill="#000"/>
<text transform="translate(450.5 107.0)" font-size="11.2" text-anchor="middle" font-weight="bold" fill="#111" stroke="#111" stroke-width="0.4">5</text>
<text transform="translate(487.7 107.0)" font-size="11.2" text-anchor="middle" font-weight="bold" fill="#111" stroke="#111" stroke-width="0.4">30</text>
<rect x="652.8" y="120.5" width="70.2" height="83.0" stroke="#000" stroke-width="1.44" fill="none"/>
<line x1="652.8" y1="123.2" x2="723.0" y2="123.2" stroke="#000" stroke-width="1.35"/>
<line x1="655.0" y1="123.2" x2="655.0" y2="203.5" stroke="#000" stroke-width="1.08"/>
<line x1="716.5" y1="123.2" x2="716.5" y2="195.0" stroke="#000" stroke-width="1.22"/>
<line x1="719.3" y1="123.2" x2="719.3" y2="203.5" stroke="#000" stroke-width="0.94"/>
<rect x="653.5" y="121.0" width="8.2" height="8.0" stroke="#000" stroke-width="1.35" fill="#555"/>
<circle cx="657.6" cy="125.0" r="2.2" stroke="#000" stroke-width="0.94" fill="#ddd"/>
<rect x="714.3" y="121.0" width="8.4" height="13.0" stroke="#000" stroke-width="1.35" fill="#fff"/>
<rect x="714.3" y="121.0" width="8.4" height="6.0" stroke="#000" stroke-width="1.08" fill="#555"/>
<circle cx="718.6" cy="131.0" r="1.2" stroke="#000" stroke-width="1.22" fill="none"/>
<line x1="714.3" y1="121.0" x2="714.3" y2="134.0" stroke="#000" stroke-width="1.84"/>
<line x1="652.8" y1="195.0" x2="723.0" y2="195.0" stroke="#000" stroke-width="1.22"/>
<line x1="652.8" y1="197.3" x2="723.0" y2="197.3" stroke="#000" stroke-width="1.22"/>
<rect x="675.7" y="197.3" width="25.2" height="4.0" stroke="#000" stroke-width="1.49" fill="none"/>
<line x1="677.0" y1="199.4" x2="699.6" y2="199.4" stroke="#000" stroke-width="0.81"/>
<line x1="670.5" y1="197.3" x2="670.5" y2="203.5" stroke="#000" stroke-width="0.81"/>
<line x1="672.5" y1="197.3" x2="672.5" y2="203.5" stroke="#000" stroke-width="0.81"/>
<line x1="701.5" y1="197.3" x2="701.5" y2="203.5" stroke="#000" stroke-width="0.81"/>
<line x1="705.5" y1="197.3" x2="705.5" y2="203.5" stroke="#000" stroke-width="0.81"/>
<rect x="685.4" y="118.3" width="6.2" height="2.2" stroke="#000" stroke-width="1.22" fill="none"/>
<line x1="701.0" y1="119.4" x2="712.0" y2="119.4" stroke="#000" stroke-width="1.49"/>
<line x1="664.0" y1="119.4" x2="672.0" y2="119.4" stroke="#000" stroke-width="1.35"/>
<rect x="650.2" y="141.2" width="2.6" height="6.8" stroke="#000" stroke-width="1.22" fill="#666"/>
<rect x="723.0" y="141.2" width="2.8" height="6.8" stroke="#000" stroke-width="1.22" fill="#666"/>
<rect x="650.2" y="180.4" width="2.6" height="6.8" stroke="#000" stroke-width="1.22" fill="#666"/>
<rect x="723.0" y="180.4" width="2.8" height="6.8" stroke="#000" stroke-width="1.22" fill="#666"/>
<circle cx="688.2" cy="162.7" r="34.0" stroke="#000" stroke-width="1.22" fill="none"/>
<circle cx="688.2" cy="162.7" r="32.6" stroke="#000" stroke-width="0.81" fill="none"/>
<circle cx="688.2" cy="162.7" r="29.7" stroke="#000" stroke-width="0.68" fill="none" stroke-dasharray="5 2.5"/>
<circle cx="688.2" cy="162.7" r="25.2" stroke="#000" stroke-width="1.84" fill="none"/>
<circle cx="688.2" cy="162.7" r="22.8" stroke="#000" stroke-width="1.22" fill="none"/>
<circle cx="688.2" cy="162.7" r="16.0" stroke="#000" stroke-width="0.68" fill="none" stroke-dasharray="4 2"/>
<circle cx="688.2" cy="162.7" r="10.9" stroke="#000" stroke-width="1.08" fill="none"/>
<circle cx="688.2" cy="162.7" r="8.6" stroke="#000" stroke-width="1.72" fill="none"/>
<circle cx="688.2" cy="162.7" r="4.9" stroke="#000" stroke-width="1.61" fill="none"/>
<circle cx="688.2" cy="162.7" r="2.6" stroke="#000" stroke-width="1.22" fill="#666"/>
<circle cx="688.2" cy="147.4" r="0.9" stroke="#000" stroke-width="0.81" fill="#000"/>
<circle cx="701.5" cy="155.0" r="0.9" stroke="#000" stroke-width="0.81" fill="#000"/>
<circle cx="701.5" cy="170.3" r="0.9" stroke="#000" stroke-width="0.81" fill="#000"/>
<circle cx="688.2" cy="178.0" r="0.9" stroke="#000" stroke-width="0.81" fill="#000"/>
<circle cx="674.9" cy="170.3" r="0.9" stroke="#000" stroke-width="0.81" fill="#000"/>
<circle cx="674.9" cy="155.0" r="0.9" stroke="#000" stroke-width="0.81" fill="#000"/>
<circle cx="709.2" cy="183.7" r="1.5" stroke="#000" stroke-width="1.08" fill="#bbb"/>
<line x1="708.6" y1="178.5" x2="714.1" y2="184.1" stroke="#000" stroke-width="1.08"/>
<line x1="704.0" y1="183.1" x2="709.6" y2="188.6" stroke="#000" stroke-width="1.08"/>
<circle cx="667.2" cy="183.7" r="1.5" stroke="#000" stroke-width="1.08" fill="#bbb"/>
<line x1="672.4" y1="183.1" x2="666.8" y2="188.6" stroke="#000" stroke-width="1.08"/>
<line x1="667.8" y1="178.5" x2="662.3" y2="184.1" stroke="#000" stroke-width="1.08"/>
<circle cx="667.2" cy="141.7" r="1.5" stroke="#000" stroke-width="1.08" fill="#bbb"/>
<line x1="667.8" y1="146.9" x2="662.3" y2="141.3" stroke="#000" stroke-width="1.08"/>
<line x1="672.4" y1="142.3" x2="666.8" y2="136.8" stroke="#000" stroke-width="1.08"/>
<circle cx="709.2" cy="141.7" r="1.5" stroke="#000" stroke-width="1.08" fill="#bbb"/>
<line x1="704.0" y1="142.3" x2="709.6" y2="136.8" stroke="#000" stroke-width="1.08"/>
<line x1="708.6" y1="146.9" x2="714.1" y2="141.3" stroke="#000" stroke-width="1.08"/>
<line x1="688.2" y1="111.0" x2="688.2" y2="222.0" stroke="#000" stroke-width="0.81" stroke-dasharray="7 2 1.5 2"/>
<line x1="647.0" y1="162.7" x2="747.0" y2="162.7" stroke="#000" stroke-width="0.81" stroke-dasharray="7 2 1.5 2"/>
<line x1="659.3" y1="80.4" x2="659.3" y2="125.0" stroke="#000" stroke-width="0.94"/>
<line x1="717.5" y1="80.4" x2="717.5" y2="132.0" stroke="#000" stroke-width="0.94"/>
<line x1="659.3" y1="82.1" x2="717.5" y2="82.1" stroke="#000" stroke-width="0.94"/>
<polygon points="659.3,82.1 665.3,80.8 665.3,83.4" fill="#000"/>
<polygon points="717.5,82.1 711.5,83.4 711.5,80.8" fill="#000"/>
<text transform="translate(687.5 80.4)" font-size="11.8" text-anchor="middle" font-weight="bold" fill="#111" stroke="#111" stroke-width="0.4">F1</text>
<line x1="655.1" y1="95.5" x2="694.0" y2="95.5" stroke="#000" stroke-width="0.94"/>
<polygon points="665.2,95.5 659.2,96.8 659.2,94.2" fill="#000"/>
<polygon points="669.4,95.5 675.4,94.2 675.4,96.8" fill="#000"/>
<line x1="665.2" y1="93.9" x2="665.2" y2="141.0" stroke="#000" stroke-width="0.94"/>
<line x1="669.4" y1="93.9" x2="669.4" y2="141.0" stroke="#000" stroke-width="0.94"/>
<text transform="translate(685.6 93.5)" font-size="11.8" text-anchor="middle" font-weight="bold" fill="#111" stroke="#111" stroke-width="0.4">F4</text>
<line x1="720.7" y1="127.5" x2="745.0" y2="127.5" stroke="#000" stroke-width="0.94"/>
<line x1="734.5" y1="197.9" x2="745.0" y2="197.9" stroke="#000" stroke-width="0.94"/>
<line x1="743.3" y1="127.5" x2="743.3" y2="197.9" stroke="#000" stroke-width="0.94"/>
<polygon points="743.3,127.5 744.6,133.5 742.0,133.5" fill="#000"/>
<polygon points="743.3,197.9 742.0,191.9 744.6,191.9" fill="#000"/>
<text transform="translate(741.8 156.9) rotate(-90)" font-size="11.8" text-anchor="middle" font-weight="bold" fill="#111" stroke="#111" stroke-width="0.4">F</text>
<path d="M745.7,162.7 A57.5,57.5 0 0 1 647.5,203.4" stroke="#000" stroke-width="0.94" fill="none"/>
<polygon points="745.7,162.7 746.8,168.7 744.2,168.7" fill="#000"/>
<polygon points="728.9,203.4 732.0,198.1 733.9,199.9" fill="#000"/>
<polygon points="728.9,203.4 725.4,208.4 723.6,206.5" fill="#000"/>
<polygon points="647.5,203.4 652.8,206.5 651.0,208.4" fill="#000"/>
<line x1="712.2" y1="186.7" x2="729.9" y2="204.4" stroke="#000" stroke-width="0.94"/>
<line x1="664.2" y1="186.7" x2="646.5" y2="204.4" stroke="#000" stroke-width="0.94"/>
<text transform="translate(733.8 180.3)" font-size="11.8" text-anchor="middle" font-weight="bold" fill="#111" stroke="#111" stroke-width="0.4">45°</text>
<text transform="translate(698.0 217.3)" font-size="11.8" text-anchor="middle" font-weight="bold" fill="#111" stroke="#111" stroke-width="0.4">90°</text>
<line x1="664.8" y1="184.0" x2="664.8" y2="234.3" stroke="#000" stroke-width="0.94"/>
<line x1="710.6" y1="184.0" x2="710.6" y2="234.3" stroke="#000" stroke-width="0.94"/>
<line x1="664.8" y1="233.2" x2="753.4" y2="233.2" stroke="#000" stroke-width="0.94"/>
<polygon points="664.8,233.2 670.8,231.9 670.8,234.5" fill="#000"/>
<polygon points="710.6,233.2 704.6,234.5 704.6,231.9" fill="#000"/>
<text transform="translate(733.8 229.9)" font-size="11.8" text-anchor="middle" font-weight="bold" fill="#111" stroke="#111" stroke-width="0.4">F2 (H7)</text>
<rect x="10.3" y="268.6" width="112.2" height="50.6" stroke="#000" stroke-width="1.08" fill="none"/>
<text transform="translate(67.2 300.0)" font-size="18.2" text-anchor="middle" font-weight="bold" fill="#111" stroke="#111" stroke-width="0.7" textLength="78.5" lengthAdjust="spacingAndGlyphs">MNHLF 30</text>
<text transform="translate(386.2 296.5)" font-size="10.6" text-anchor="middle" font-weight="bold" fill="#111" stroke="#111" stroke-width="1.0" textLength="43.0" lengthAdjust="spacingAndGlyphs">ФЛАНЕЦ</text>
<line x1="50.6" y1="371.7" x2="120.1" y2="371.7" stroke="#000" stroke-width="1.35"/>
<line x1="50.6" y1="374.1" x2="120.1" y2="374.1" stroke="#000" stroke-width="1.35"/>
<line x1="63.6" y1="370.4" x2="72.7" y2="370.4" stroke="#000" stroke-width="1.61"/>
<line x1="83.9" y1="370.4" x2="107.7" y2="370.4" stroke="#000" stroke-width="1.61"/>
<line x1="50.6" y1="371.7" x2="50.6" y2="453.8" stroke="#000" stroke-width="1.08"/>
<line x1="120.1" y1="371.7" x2="120.1" y2="453.8" stroke="#000" stroke-width="1.08"/>
<line x1="55.2" y1="374.1" x2="55.2" y2="447.1" stroke="#000" stroke-width="2.07"/>
<line x1="116.2" y1="374.1" x2="116.2" y2="447.1" stroke="#000" stroke-width="1.84"/>
<line x1="53.4" y1="374.1" x2="53.4" y2="453.8" stroke="#000" stroke-width="0.81"/>
<line x1="117.9" y1="374.1" x2="117.9" y2="453.8" stroke="#000" stroke-width="0.81"/>
<line x1="50.6" y1="453.8" x2="72.0" y2="453.8" stroke="#000" stroke-width="1.35"/>
<line x1="99.2" y1="453.8" x2="120.1" y2="453.8" stroke="#000" stroke-width="1.35"/>
<line x1="55.2" y1="447.1" x2="72.0" y2="447.1" stroke="#000" stroke-width="1.35"/>
<line x1="99.2" y1="447.1" x2="116.2" y2="447.1" stroke="#000" stroke-width="1.35"/>
<line x1="72.0" y1="445.1" x2="72.0" y2="453.8" stroke="#000" stroke-width="1.84"/>
<line x1="99.2" y1="445.1" x2="99.2" y2="453.8" stroke="#000" stroke-width="1.84"/>
<rect x="50.9" y="451.4" width="2.2" height="2.2" stroke="#000" stroke-width="0.81" fill="none"/>
<rect x="117.7" y="451.4" width="2.2" height="2.2" stroke="#000" stroke-width="0.81" fill="none"/>
<rect x="51.1" y="372.1" width="2.0" height="2.0" stroke="#000" stroke-width="0.68" fill="none"/>
<rect x="117.7" y="372.1" width="2.0" height="2.0" stroke="#000" stroke-width="0.68" fill="none"/>
<line x1="58.0" y1="445.1" x2="66.3" y2="445.1" stroke="#000" stroke-width="2.76"/>
<line x1="104.4" y1="445.1" x2="112.7" y2="445.1" stroke="#000" stroke-width="2.76"/>
<line x1="107.3" y1="447.1" x2="107.3" y2="453.8" stroke="#000" stroke-width="0.81"/>
<line x1="112.5" y1="447.1" x2="112.5" y2="453.8" stroke="#000" stroke-width="0.81"/>
<line x1="60.5" y1="447.1" x2="60.5" y2="453.8" stroke="#000" stroke-width="0.81"/>
<line x1="62.8" y1="447.1" x2="62.8" y2="453.8" stroke="#000" stroke-width="0.81"/>
<line x1="65.3" y1="447.1" x2="65.3" y2="453.8" stroke="#000" stroke-width="0.81"/>
<rect x="46.5" y="392.1" width="4.0" height="6.8" stroke="#000" stroke-width="1.08" fill="none"/>
<rect x="120.1" y="392.1" width="2.8" height="6.8" stroke="#000" stroke-width="1.08" fill="none"/>
<line x1="47.9" y1="392.1" x2="47.9" y2="398.9" stroke="#000" stroke-width="0.68"/>
<rect x="46.5" y="430.9" width="4.0" height="6.8" stroke="#000" stroke-width="1.08" fill="none"/>
<rect x="120.1" y="430.9" width="2.8" height="6.8" stroke="#000" stroke-width="1.08" fill="none"/>
<line x1="47.9" y1="430.9" x2="47.9" y2="437.7" stroke="#000" stroke-width="0.68"/>
<path d="M58.0,444.8 L58.0,419.0 L61.8,419.0 L72.4,432.8" stroke="#000" stroke-width="1.61" fill="none"/>
<path d="M60.8,444.8 L60.8,422.3 L71.9,436.0" stroke="#000" stroke-width="0.94" fill="none"/>
<path d="M75.9,434.8 L68.8,446.1" stroke="#000" stroke-width="1.26" fill="none"/>
<path d="M74.1,434.8 L66.6,446.1" stroke="#000" stroke-width="1.08" fill="none"/>
<path d="M77.8,436.0 L70.8,446.1" stroke="#000" stroke-width="1.26" fill="none"/>
<path d="M79.7,436.0 L72.0,446.1" stroke="#000" stroke-width="1.08" fill="none"/>
<path d="M79.6,436.0 L80.9,434.1" stroke="#000" stroke-width="1.08" fill="none"/>
<path d="M112.8,444.8 L112.8,419.0 L109.0,419.0 L98.4,432.8" stroke="#000" stroke-width="1.61" fill="none"/>
<path d="M110.0,444.8 L110.0,422.3 L98.9,436.0" stroke="#000" stroke-width="0.94" fill="none"/>
<path d="M94.9,434.8 L102.0,446.1" stroke="#000" stroke-width="1.26" fill="none"/>
<path d="M96.7,434.8 L104.2,446.1" stroke="#000" stroke-width="1.08" fill="none"/>
<path d="M93.0,436.0 L100.0,446.1" stroke="#000" stroke-width="1.26" fill="none"/>
<path d="M91.1,436.0 L98.8,446.1" stroke="#000" stroke-width="1.08" fill="none"/>
<path d="M91.2,436.0 L89.9,434.1" stroke="#000" stroke-width="1.08" fill="none"/>
<path d="M79.4,435.8 Q85.4,434.0 91.4,435.8" stroke="#000" stroke-width="1.08" fill="none"/>
<circle cx="85.4" cy="413.2" r="28.2" stroke="#000" stroke-width="1.01" fill="#fff"/>
<circle cx="85.4" cy="413.2" r="23.1" stroke="#000" stroke-width="0.68" fill="none" stroke-dasharray="5 2 1 2"/>
<circle cx="85.4" cy="413.2" r="18.1" stroke="#000" stroke-width="1.01" fill="none"/>
<circle cx="85.4" cy="413.2" r="16.2" stroke="#000" stroke-width="1.01" fill="none"/>
<circle cx="85.4" cy="413.2" r="13.7" stroke="#000" stroke-width="1.01" fill="none"/>
<circle cx="85.4" cy="413.2" r="6.9" stroke="#000" stroke-width="1.72" fill="none"/>
<circle cx="85.4" cy="413.2" r="3.6" stroke="#000" stroke-width="1.35" fill="#333"/>
<circle cx="108.8" cy="413.2" r="3.0" stroke="#000" stroke-width="1.35" fill="#888"/>
<circle cx="108.8" cy="413.2" r="1.5" stroke="#000" stroke-width="1.08" fill="#ccc"/>
<circle cx="62.0" cy="413.2" r="3.0" stroke="#000" stroke-width="1.35" fill="#888"/>
<circle cx="62.0" cy="413.2" r="1.5" stroke="#000" stroke-width="1.08" fill="#ccc"/>
<circle cx="95.3" cy="392.0" r="3.0" stroke="#000" stroke-width="1.35" fill="#888"/>
<circle cx="95.3" cy="392.0" r="1.5" stroke="#000" stroke-width="1.08" fill="#ccc"/>
<circle cx="75.5" cy="392.0" r="3.0" stroke="#000" stroke-width="1.35" fill="#888"/>
<circle cx="75.5" cy="392.0" r="1.5" stroke="#000" stroke-width="1.08" fill="#ccc"/>
<circle cx="95.3" cy="434.4" r="3.0" stroke="#000" stroke-width="1.35" fill="#888"/>
<circle cx="95.3" cy="434.4" r="1.5" stroke="#000" stroke-width="1.08" fill="#ccc"/>
<circle cx="75.5" cy="434.4" r="3.0" stroke="#000" stroke-width="1.35" fill="#888"/>
<circle cx="75.5" cy="434.4" r="1.5" stroke="#000" stroke-width="1.08" fill="#ccc"/>
<line x1="90.7" y1="418.5" x2="94.9" y2="422.7" stroke="#000" stroke-width="0.68"/>
<circle cx="101.7" cy="429.5" r="1.5" stroke="#000" stroke-width="0.81" fill="#ddd"/>
<line x1="99.5" y1="427.3" x2="103.9" y2="431.7" stroke="#000" stroke-width="0.61"/>
<line x1="99.5" y1="431.7" x2="103.9" y2="427.3" stroke="#000" stroke-width="0.61"/>
<line x1="80.1" y1="418.5" x2="75.9" y2="422.7" stroke="#000" stroke-width="0.68"/>
<circle cx="69.1" cy="429.5" r="1.5" stroke="#000" stroke-width="0.81" fill="#ddd"/>
<line x1="66.9" y1="427.3" x2="71.3" y2="431.7" stroke="#000" stroke-width="0.61"/>
<line x1="66.9" y1="431.7" x2="71.3" y2="427.3" stroke="#000" stroke-width="0.61"/>
<line x1="80.1" y1="407.9" x2="75.9" y2="403.7" stroke="#000" stroke-width="0.68"/>
<circle cx="69.1" cy="396.9" r="1.5" stroke="#000" stroke-width="0.81" fill="#ddd"/>
<line x1="66.9" y1="394.7" x2="71.3" y2="399.1" stroke="#000" stroke-width="0.61"/>
<line x1="66.9" y1="399.1" x2="71.3" y2="394.7" stroke="#000" stroke-width="0.61"/>
<line x1="90.7" y1="407.9" x2="94.9" y2="403.7" stroke="#000" stroke-width="0.68"/>
<circle cx="101.7" cy="396.9" r="1.5" stroke="#000" stroke-width="0.81" fill="#ddd"/>
<line x1="99.5" y1="394.7" x2="103.9" y2="399.1" stroke="#000" stroke-width="0.61"/>
<line x1="99.5" y1="399.1" x2="103.9" y2="394.7" stroke="#000" stroke-width="0.61"/>
<line x1="85.4" y1="354.7" x2="85.4" y2="466.2" stroke="#000" stroke-width="0.81" stroke-dasharray="7 2 1.5 2"/>
<path d="M85.4,356.5 A56.7,56.7 0 0 1 125.5,453.3" stroke="#000" stroke-width="0.94" fill="none"/>
<polygon points="85.4,356.5 91.4,355.4 91.4,358.0" fill="#000"/>
<polygon points="125.5,373.1 120.2,370.0 122.0,368.1" fill="#000"/>
<polygon points="125.5,373.1 130.5,376.6 128.6,378.4" fill="#000"/>
<polygon points="125.5,453.3 128.6,448.0 130.5,449.8" fill="#000"/>
<line x1="91.1" y1="407.5" x2="126.8" y2="371.8" stroke="#000" stroke-width="0.81"/>
<line x1="91.1" y1="418.9" x2="126.8" y2="454.6" stroke="#000" stroke-width="0.81"/>
<line x1="45.6" y1="413.2" x2="130.2" y2="413.2" stroke="#000" stroke-width="0.81" stroke-dasharray="7 2 1.5 2"/>
<text transform="translate(111.8 358.3)" font-size="11.2" text-anchor="middle" font-weight="bold" fill="#111" stroke="#111" stroke-width="0.4">45°</text>
<text transform="translate(142.2 381.4)" font-size="11.2" text-anchor="middle" font-weight="bold" fill="#111" stroke="#111" stroke-width="0.4">90°</text>
<text transform="translate(56.4 354.1)" font-size="11.2" text-anchor="middle" font-weight="bold" fill="#111" stroke="#111" stroke-width="0.4">9</text>
<line x1="50.0" y1="356.5" x2="80.0" y2="356.5" stroke="#000" stroke-width="0.94"/>
<polygon points="67.6,356.5 61.6,357.8 61.6,355.2" fill="#000"/>
<polygon points="71.8,356.5 77.8,355.2 77.8,357.8" fill="#000"/>
<line x1="67.6" y1="355.4" x2="67.6" y2="396.5" stroke="#000" stroke-width="0.94"/>
<line x1="71.8" y1="355.4" x2="71.8" y2="396.5" stroke="#000" stroke-width="0.94"/>
<line x1="31.3" y1="385.0" x2="83.6" y2="385.0" stroke="#000" stroke-width="0.94"/>
<line x1="31.3" y1="441.4" x2="83.6" y2="441.4" stroke="#000" stroke-width="0.94"/>
<line x1="34.5" y1="385.0" x2="34.5" y2="441.4" stroke="#000" stroke-width="0.94"/>
<polygon points="34.5,385.0 35.8,391.0 33.2,391.0" fill="#000"/>
<polygon points="34.5,441.4 33.2,435.4 35.8,435.4" fill="#000"/>
<text transform="translate(33.0 413.2) rotate(-90)" font-size="11.2" text-anchor="middle" font-weight="bold" fill="#111" stroke="#111" stroke-width="0.4">160</text>
<line x1="61.9" y1="477.4" x2="109.2" y2="477.4" stroke="#000" stroke-width="0.94"/>
<polygon points="61.9,477.4 67.9,476.1 67.9,478.7" fill="#000"/>
<polygon points="109.2,477.4 103.2,478.7 103.2,476.1" fill="#000"/>
<line x1="61.9" y1="451.0" x2="61.9" y2="479.8" stroke="#000" stroke-width="0.94"/>
<line x1="109.2" y1="451.0" x2="109.2" y2="479.8" stroke="#000" stroke-width="0.94"/>
<text transform="translate(84.5 474.9)" font-size="11.2" text-anchor="middle" font-weight="bold" fill="#111" stroke="#111" stroke-width="0.4">130</text>
<line x1="167.3" y1="344.4" x2="214.5" y2="344.4" stroke="#000" stroke-width="0.94"/>
<polygon points="188.7,344.4 182.7,345.7 182.7,343.1" fill="#000"/>
<polygon points="191.4,344.4 197.4,343.1 197.4,345.7" fill="#000"/>
<polygon points="214.5,344.4 208.5,345.7 208.5,343.1" fill="#000"/>
<text transform="translate(177.8 343.5)" font-size="11.2" text-anchor="middle" font-weight="bold" fill="#111" stroke="#111" stroke-width="0.4">10</text>
<text transform="translate(202.9 343.5)" font-size="11.2" text-anchor="middle" font-weight="bold" fill="#111" stroke="#111" stroke-width="0.4">65</text>
<line x1="183.0" y1="360.2" x2="214.5" y2="360.2" stroke="#000" stroke-width="0.94"/>
<polygon points="191.4,360.2 185.4,361.5 185.4,358.9" fill="#000"/>
<polygon points="192.9,360.2 198.9,358.9 198.9,361.5" fill="#000"/>
<text transform="translate(204.0 359.3)" font-size="11.2" text-anchor="middle" font-weight="bold" fill="#111" stroke="#111" stroke-width="0.4">3.5</text>
<line x1="188.7" y1="343.0" x2="188.7" y2="384.9" stroke="#000" stroke-width="0.94"/>
<line x1="191.4" y1="343.0" x2="191.4" y2="441.5" stroke="#000" stroke-width="1.08"/>
<line x1="192.9" y1="358.5" x2="192.9" y2="479.7" stroke="#000" stroke-width="0.94"/>
<line x1="214.5" y1="343.0" x2="214.5" y2="418.8" stroke="#000" stroke-width="0.94"/>
<line x1="195.0" y1="407.6" x2="214.5" y2="407.6" stroke="#000" stroke-width="1.49"/>
<line x1="192.9" y1="418.8" x2="214.5" y2="418.8" stroke="#000" stroke-width="1.22"/>
<line x1="192.9" y1="407.6" x2="195.0" y2="407.6" stroke="#000" stroke-width="0.94"/>
<line x1="192.9" y1="393.8" x2="255.4" y2="393.8" stroke="#000" stroke-width="0.94"/>
<line x1="192.9" y1="432.6" x2="212.4" y2="432.6" stroke="#000" stroke-width="0.94"/>
<line x1="238.6" y1="432.6" x2="255.4" y2="432.6" stroke="#000" stroke-width="0.94"/>
<line x1="253.3" y1="349.3" x2="253.3" y2="432.6" stroke="#000" stroke-width="0.94"/>
<polygon points="253.3,393.8 254.6,399.8 252.0,399.8" fill="#000"/>
<polygon points="253.3,432.6 252.0,426.6 254.6,426.6" fill="#000"/>
<text transform="translate(251.3 371.2) rotate(-90)" font-size="11.2" text-anchor="middle" font-weight="bold" fill="#111" stroke="#111" stroke-width="0.4">ø110 h7</text>
<line x1="214.5" y1="407.6" x2="232.3" y2="407.6" stroke="#000" stroke-width="0.94"/>
<line x1="214.5" y1="418.8" x2="232.3" y2="418.8" stroke="#000" stroke-width="0.94"/>
<line x1="231.3" y1="398.0" x2="231.3" y2="456.7" stroke="#000" stroke-width="0.94"/>
<polygon points="231.3,407.6 230.0,401.6 232.6,401.6" fill="#000"/>
<polygon points="231.3,418.8 232.6,424.8 230.0,424.8" fill="#000"/>
<text transform="translate(229.4 441.5) rotate(-90)" font-size="11.2" text-anchor="middle" font-weight="bold" fill="#111" stroke="#111" stroke-width="0.4">ø30 j6</text>
<line x1="148.4" y1="413.2" x2="237.5" y2="413.2" stroke="#000" stroke-width="0.81" stroke-dasharray="7 2 1.5 2"/>
<line x1="173.6" y1="477.6" x2="214.5" y2="477.6" stroke="#000" stroke-width="0.94"/>
<polygon points="183.4,477.6 177.4,478.9 177.4,476.3" fill="#000"/>
<polygon points="192.9,477.6 198.9,476.3 198.9,478.9" fill="#000"/>
<text transform="translate(207.1 476.2)" font-size="11.2" text-anchor="middle" font-weight="bold" fill="#111" stroke="#111" stroke-width="0.4">30</text>
<line x1="183.4" y1="463.0" x2="183.4" y2="479.7" stroke="#000" stroke-width="0.94"/>
<line x1="183.4" y1="444.0" x2="183.4" y2="458.0" stroke="#000" stroke-width="0.68" stroke-dasharray="2 1"/>
<line x1="157.2" y1="371.0" x2="175.7" y2="371.0" stroke="#000" stroke-width="1.72"/>
<line x1="157.2" y1="373.6" x2="175.7" y2="373.6" stroke="#000" stroke-width="1.08"/>
<line x1="176.5" y1="371.0" x2="176.5" y2="447.2" stroke="#000" stroke-width="2.07"/>
<path d="M157.2,371.0 L155.7,386.4 L158.5,390.0 L151.5,392.2 L154.7,394.8 L154.7,417.9 L157.8,421.0 L150.9,423.2 L154.3,426.3 L155.2,449.3" stroke="#000" stroke-width="0.94" fill="none"/>
<line x1="155.2" y1="449.3" x2="183.0" y2="453.0" stroke="#000" stroke-width="0.94"/>
<path d="M177.3,446.2 L186.6,446.2 L186.6,452.9 L181.0,452.9 L181.0,446.2" stroke="#000" stroke-width="1.22" fill="none"/>
<line x1="185.8" y1="446.2" x2="185.8" y2="452.9" stroke="#000" stroke-width="1.61"/>
<text transform="translate(164.8 409.0)" font-size="11.8" text-anchor="middle" font-weight="bold" fill="#111" stroke="#111" stroke-width="0.4">/2</text>
<text transform="translate(164.8 426.3)" font-size="11.8" text-anchor="middle" font-weight="bold" fill="#111" stroke="#111" stroke-width="0.4">/3</text>
<line x1="189.3" y1="384.9" x2="189.3" y2="441.5" stroke="#000" stroke-width="2.3"/>
<line x1="188.7" y1="384.9" x2="191.4" y2="384.9" stroke="#000" stroke-width="1.08"/>
<line x1="188.7" y1="441.5" x2="191.4" y2="441.5" stroke="#000" stroke-width="1.08"/>
<path d="M177.3,389.6 L183.0,389.6 Q187.0,388.7 188.4,386.7" stroke="#000" stroke-width="1.08" fill="none"/>
<path d="M177.3,436.8 L183.0,436.8 Q187.0,437.7 188.4,439.7" stroke="#000" stroke-width="1.08" fill="none"/>
<line x1="183.0" y1="389.6" x2="183.0" y2="436.8" stroke="#000" stroke-width="0.94"/>
<line x1="179.6" y1="389.6" x2="179.6" y2="436.8" stroke="#000" stroke-width="1.38"/>
<line x1="177.3" y1="394.2" x2="183.0" y2="394.2" stroke="#000" stroke-width="0.81"/>
<line x1="177.3" y1="397.2" x2="183.0" y2="397.2" stroke="#000" stroke-width="0.81"/>
<line x1="177.3" y1="429.2" x2="183.0" y2="429.2" stroke="#000" stroke-width="0.81"/>
<line x1="177.3" y1="432.2" x2="183.0" y2="432.2" stroke="#000" stroke-width="0.81"/>
<line x1="183.0" y1="400.2" x2="188.4" y2="400.2" stroke="#000" stroke-width="0.81"/>
<line x1="183.0" y1="407.6" x2="188.4" y2="407.6" stroke="#000" stroke-width="0.81"/>
<line x1="183.0" y1="418.8" x2="188.4" y2="418.8" stroke="#000" stroke-width="0.81"/>
<line x1="183.0" y1="426.2" x2="188.4" y2="426.2" stroke="#000" stroke-width="0.81"/>
<line x1="290.2" y1="371.7" x2="359.7" y2="371.7" stroke="#000" stroke-width="1.35"/>
<line x1="290.2" y1="374.1" x2="359.7" y2="374.1" stroke="#000" stroke-width="1.35"/>
<line x1="303.2" y1="370.4" x2="312.3" y2="370.4" stroke="#000" stroke-width="1.61"/>
<line x1="323.5" y1="370.4" x2="347.3" y2="370.4" stroke="#000" stroke-width="1.61"/>
<line x1="290.2" y1="371.7" x2="290.2" y2="453.8" stroke="#000" stroke-width="1.08"/>
<line x1="359.7" y1="371.7" x2="359.7" y2="453.8" stroke="#000" stroke-width="1.08"/>
<line x1="294.8" y1="374.1" x2="294.8" y2="447.1" stroke="#000" stroke-width="2.07"/>
<line x1="355.8" y1="374.1" x2="355.8" y2="447.1" stroke="#000" stroke-width="1.84"/>
<line x1="293.0" y1="374.1" x2="293.0" y2="453.8" stroke="#000" stroke-width="0.81"/>
<line x1="357.5" y1="374.1" x2="357.5" y2="453.8" stroke="#000" stroke-width="0.81"/>
<line x1="290.2" y1="453.8" x2="311.6" y2="453.8" stroke="#000" stroke-width="1.35"/>
<line x1="338.8" y1="453.8" x2="359.7" y2="453.8" stroke="#000" stroke-width="1.35"/>
<line x1="294.8" y1="447.1" x2="311.6" y2="447.1" stroke="#000" stroke-width="1.35"/>
<line x1="338.8" y1="447.1" x2="355.8" y2="447.1" stroke="#000" stroke-width="1.35"/>
<line x1="311.6" y1="445.1" x2="311.6" y2="453.8" stroke="#000" stroke-width="1.84"/>
<line x1="338.8" y1="445.1" x2="338.8" y2="453.8" stroke="#000" stroke-width="1.84"/>
<rect x="290.5" y="451.4" width="2.2" height="2.2" stroke="#000" stroke-width="0.81" fill="none"/>
<rect x="357.3" y="451.4" width="2.2" height="2.2" stroke="#000" stroke-width="0.81" fill="none"/>
<rect x="290.7" y="372.1" width="2.0" height="2.0" stroke="#000" stroke-width="0.68" fill="none"/>
<rect x="357.3" y="372.1" width="2.0" height="2.0" stroke="#000" stroke-width="0.68" fill="none"/>
<line x1="297.6" y1="445.1" x2="305.9" y2="445.1" stroke="#000" stroke-width="2.76"/>
<line x1="344.0" y1="445.1" x2="352.3" y2="445.1" stroke="#000" stroke-width="2.76"/>
<line x1="346.9" y1="447.1" x2="346.9" y2="453.8" stroke="#000" stroke-width="0.81"/>
<line x1="352.1" y1="447.1" x2="352.1" y2="453.8" stroke="#000" stroke-width="0.81"/>
<line x1="300.1" y1="447.1" x2="300.1" y2="453.8" stroke="#000" stroke-width="0.81"/>
<line x1="302.4" y1="447.1" x2="302.4" y2="453.8" stroke="#000" stroke-width="0.81"/>
<line x1="304.9" y1="447.1" x2="304.9" y2="453.8" stroke="#000" stroke-width="0.81"/>
<rect x="286.1" y="392.1" width="4.0" height="6.8" stroke="#000" stroke-width="1.08" fill="none"/>
<rect x="359.7" y="392.1" width="2.8" height="6.8" stroke="#000" stroke-width="1.08" fill="none"/>
<line x1="287.5" y1="392.1" x2="287.5" y2="398.9" stroke="#000" stroke-width="0.68"/>
<rect x="286.1" y="430.9" width="4.0" height="6.8" stroke="#000" stroke-width="1.08" fill="none"/>
<rect x="359.7" y="430.9" width="2.8" height="6.8" stroke="#000" stroke-width="1.08" fill="none"/>
<line x1="287.5" y1="430.9" x2="287.5" y2="437.7" stroke="#000" stroke-width="0.68"/>
<path d="M297.6,444.8 L297.6,419.0 L301.4,419.0 L312.0,432.8" stroke="#000" stroke-width="1.61" fill="none"/>
<path d="M300.4,444.8 L300.4,422.3 L311.5,436.0" stroke="#000" stroke-width="0.94" fill="none"/>
<path d="M315.5,434.8 L308.4,446.1" stroke="#000" stroke-width="1.26" fill="none"/>
<path d="M313.7,434.8 L306.2,446.1" stroke="#000" stroke-width="1.08" fill="none"/>
<path d="M317.4,436.0 L310.4,446.1" stroke="#000" stroke-width="1.26" fill="none"/>
<path d="M319.3,436.0 L311.6,446.1" stroke="#000" stroke-width="1.08" fill="none"/>
<path d="M319.2,436.0 L320.5,434.1" stroke="#000" stroke-width="1.08" fill="none"/>
<path d="M352.4,444.8 L352.4,419.0 L348.6,419.0 L338.0,432.8" stroke="#000" stroke-width="1.61" fill="none"/>
<path d="M349.6,444.8 L349.6,422.3 L338.5,436.0" stroke="#000" stroke-width="0.94" fill="none"/>
<path d="M334.5,434.8 L341.6,446.1" stroke="#000" stroke-width="1.26" fill="none"/>
<path d="M336.3,434.8 L343.8,446.1" stroke="#000" stroke-width="1.08" fill="none"/>
<path d="M332.6,436.0 L339.6,446.1" stroke="#000" stroke-width="1.26" fill="none"/>
<path d="M330.7,436.0 L338.4,446.1" stroke="#000" stroke-width="1.08" fill="none"/>
<path d="M330.8,436.0 L329.5,434.1" stroke="#000" stroke-width="1.08" fill="none"/>
<path d="M319.0,435.8 Q325.0,434.0 331.0,435.8" stroke="#000" stroke-width="1.08" fill="none"/>
<circle cx="325.0" cy="413.2" r="35.2" stroke="#000" stroke-width="1.01" fill="#fff"/>
<circle cx="325.0" cy="413.2" r="29.3" stroke="#000" stroke-width="0.68" fill="none" stroke-dasharray="5 2 1 2"/>
<circle cx="325.0" cy="413.2" r="15.2" stroke="#000" stroke-width="1.01" fill="none"/>
<circle cx="325.0" cy="413.2" r="12.4" stroke="#000" stroke-width="1.01" fill="none"/>
<circle cx="325.0" cy="413.2" r="23.6" stroke="#000" stroke-width="0.68" fill="none" stroke-dasharray="5 2 1 2"/>
<circle cx="325.0" cy="413.2" r="6.9" stroke="#000" stroke-width="1.72" fill="none"/>
<circle cx="325.0" cy="413.2" r="3.6" stroke="#000" stroke-width="1.35" fill="#333"/>
<circle cx="348.4" cy="413.2" r="3.0" stroke="#000" stroke-width="1.35" fill="#888"/>
<circle cx="348.4" cy="413.2" r="1.5" stroke="#000" stroke-width="1.08" fill="#ccc"/>
<circle cx="301.6" cy="413.2" r="3.0" stroke="#000" stroke-width="1.35" fill="#888"/>
<circle cx="301.6" cy="413.2" r="1.5" stroke="#000" stroke-width="1.08" fill="#ccc"/>
<circle cx="334.9" cy="392.0" r="3.0" stroke="#000" stroke-width="1.35" fill="#888"/>
<circle cx="334.9" cy="392.0" r="1.5" stroke="#000" stroke-width="1.08" fill="#ccc"/>
<circle cx="315.1" cy="392.0" r="3.0" stroke="#000" stroke-width="1.35" fill="#888"/>
<circle cx="315.1" cy="392.0" r="1.5" stroke="#000" stroke-width="1.08" fill="#ccc"/>
<circle cx="334.9" cy="434.4" r="3.0" stroke="#000" stroke-width="1.35" fill="#888"/>
<circle cx="334.9" cy="434.4" r="1.5" stroke="#000" stroke-width="1.08" fill="#ccc"/>
<circle cx="315.1" cy="434.4" r="3.0" stroke="#000" stroke-width="1.35" fill="#888"/>
<circle cx="315.1" cy="434.4" r="1.5" stroke="#000" stroke-width="1.08" fill="#ccc"/>
<line x1="330.3" y1="418.5" x2="334.5" y2="422.7" stroke="#000" stroke-width="0.68"/>
<circle cx="345.7" cy="433.9" r="1.8" stroke="#000" stroke-width="0.81" fill="#ddd"/>
<line x1="343.5" y1="431.7" x2="347.9" y2="436.1" stroke="#000" stroke-width="0.61"/>
<line x1="343.5" y1="436.1" x2="347.9" y2="431.7" stroke="#000" stroke-width="0.61"/>
<line x1="319.7" y1="418.5" x2="315.5" y2="422.7" stroke="#000" stroke-width="0.68"/>
<circle cx="304.3" cy="433.9" r="1.8" stroke="#000" stroke-width="0.81" fill="#ddd"/>
<line x1="302.1" y1="431.7" x2="306.5" y2="436.1" stroke="#000" stroke-width="0.61"/>
<line x1="302.1" y1="436.1" x2="306.5" y2="431.7" stroke="#000" stroke-width="0.61"/>
<line x1="319.7" y1="407.9" x2="315.5" y2="403.7" stroke="#000" stroke-width="0.68"/>
<circle cx="304.3" cy="392.5" r="1.8" stroke="#000" stroke-width="0.81" fill="#ddd"/>
<line x1="302.1" y1="390.3" x2="306.5" y2="394.7" stroke="#000" stroke-width="0.61"/>
<line x1="302.1" y1="394.7" x2="306.5" y2="390.3" stroke="#000" stroke-width="0.61"/>
<line x1="330.3" y1="407.9" x2="334.5" y2="403.7" stroke="#000" stroke-width="0.68"/>
<circle cx="345.7" cy="392.5" r="1.8" stroke="#000" stroke-width="0.81" fill="#ddd"/>
<line x1="343.5" y1="390.3" x2="347.9" y2="394.7" stroke="#000" stroke-width="0.61"/>
<line x1="343.5" y1="394.7" x2="347.9" y2="390.3" stroke="#000" stroke-width="0.61"/>
<line x1="325.0" y1="354.7" x2="325.0" y2="466.2" stroke="#000" stroke-width="0.81" stroke-dasharray="7 2 1.5 2"/>
<path d="M325.0,353.7 A59.5,59.5 0 0 1 367.1,455.3" stroke="#000" stroke-width="0.94" fill="none"/>
<polygon points="325.0,353.7 331.0,352.6 331.0,355.2" fill="#000"/>
<polygon points="367.1,371.1 361.8,368.0 363.6,366.1" fill="#000"/>
<polygon points="367.1,371.1 372.1,374.6 370.2,376.4" fill="#000"/>
<polygon points="367.1,455.3 370.2,450.0 372.1,451.8" fill="#000"/>
<line x1="330.7" y1="407.5" x2="368.5" y2="369.7" stroke="#000" stroke-width="0.81"/>
<line x1="330.7" y1="418.9" x2="368.5" y2="456.7" stroke="#000" stroke-width="0.81"/>
<line x1="281.0" y1="413.2" x2="372.0" y2="413.2" stroke="#000" stroke-width="0.81" stroke-dasharray="7 2 1.5 2"/>
<text transform="translate(352.1 357.1)" font-size="11.2" text-anchor="middle" font-weight="bold" fill="#111" stroke="#111" stroke-width="0.4">45°</text>
<text transform="translate(384.5 379.4)" font-size="11.2" text-anchor="middle" font-weight="bold" fill="#111" stroke="#111" stroke-width="0.4">90°</text>
<text transform="translate(285.5 354.3)" font-size="11.2" text-anchor="middle" font-weight="bold" fill="#111" stroke="#111" stroke-width="0.4">11.5</text>
<line x1="273.7" y1="355.7" x2="317.6" y2="355.7" stroke="#000" stroke-width="0.94"/>
<polygon points="302.0,355.7 296.0,357.0 296.0,354.4" fill="#000"/>
<polygon points="306.2,355.7 312.2,354.4 312.2,357.0" fill="#000"/>
<line x1="302.0" y1="354.0" x2="302.0" y2="393.0" stroke="#000" stroke-width="0.94"/>
<line x1="306.2" y1="354.0" x2="306.2" y2="393.0" stroke="#000" stroke-width="0.94"/>
<line x1="272.0" y1="378.4" x2="322.7" y2="378.4" stroke="#000" stroke-width="0.94"/>
<line x1="272.0" y1="448.4" x2="322.7" y2="448.4" stroke="#000" stroke-width="0.94"/>
<line x1="276.4" y1="378.4" x2="276.4" y2="448.4" stroke="#000" stroke-width="0.94"/>
<polygon points="276.4,378.4 277.7,384.4 275.1,384.4" fill="#000"/>
<polygon points="276.4,448.4 275.1,442.4 277.7,442.4" fill="#000"/>
<text transform="translate(274.6 413.2) rotate(-90)" font-size="11.2" text-anchor="middle" font-weight="bold" fill="#111" stroke="#111" stroke-width="0.4">200</text>
<line x1="295.6" y1="476.4" x2="354.8" y2="476.4" stroke="#000" stroke-width="0.94"/>
<polygon points="295.6,476.4 301.6,475.1 301.6,477.7" fill="#000"/>
<polygon points="354.8,476.4 348.8,477.7 348.8,475.1" fill="#000"/>
<line x1="295.6" y1="434.0" x2="295.6" y2="478.8" stroke="#000" stroke-width="0.94"/>
<line x1="354.8" y1="434.0" x2="354.8" y2="478.8" stroke="#000" stroke-width="0.94"/>
<text transform="translate(325.0 474.8)" font-size="11.2" text-anchor="middle" font-weight="bold" fill="#111" stroke="#111" stroke-width="0.4">165</text>
<line x1="408.4" y1="344.4" x2="455.6" y2="344.4" stroke="#000" stroke-width="0.94"/>
<polygon points="429.8,344.4 423.8,345.7 423.8,343.1" fill="#000"/>
<polygon points="432.5,344.4 438.5,343.1 438.5,345.7" fill="#000"/>
<polygon points="455.6,344.4 449.6,345.7 449.6,343.1" fill="#000"/>
<text transform="translate(418.9 343.5)" font-size="11.2" text-anchor="middle" font-weight="bold" fill="#111" stroke="#111" stroke-width="0.4">10</text>
<text transform="translate(444.0 343.5)" font-size="11.2" text-anchor="middle" font-weight="bold" fill="#111" stroke="#111" stroke-width="0.4">65</text>
<line x1="424.1" y1="360.2" x2="455.6" y2="360.2" stroke="#000" stroke-width="0.94"/>
<polygon points="432.5,360.2 426.5,361.5 426.5,358.9" fill="#000"/>
<polygon points="434.0,360.2 440.0,358.9 440.0,361.5" fill="#000"/>
<text transform="translate(445.1 359.3)" font-size="11.2" text-anchor="middle" font-weight="bold" fill="#111" stroke="#111" stroke-width="0.4">3.5</text>
<line x1="429.8" y1="343.0" x2="429.8" y2="377.9" stroke="#000" stroke-width="0.94"/>
<line x1="432.5" y1="343.0" x2="432.5" y2="448.5" stroke="#000" stroke-width="1.08"/>
<line x1="434.0" y1="358.5" x2="434.0" y2="479.7" stroke="#000" stroke-width="0.94"/>
<line x1="455.6" y1="343.0" x2="455.6" y2="418.8" stroke="#000" stroke-width="0.94"/>
<line x1="436.1" y1="407.6" x2="455.6" y2="407.6" stroke="#000" stroke-width="1.49"/>
<line x1="434.0" y1="418.8" x2="455.6" y2="418.8" stroke="#000" stroke-width="1.22"/>
<line x1="434.0" y1="407.6" x2="436.1" y2="407.6" stroke="#000" stroke-width="0.94"/>
<line x1="434.0" y1="390.2" x2="496.5" y2="390.2" stroke="#000" stroke-width="0.94"/>
<line x1="434.0" y1="436.2" x2="453.5" y2="436.2" stroke="#000" stroke-width="0.94"/>
<line x1="479.7" y1="436.2" x2="496.5" y2="436.2" stroke="#000" stroke-width="0.94"/>
<line x1="494.4" y1="390.0" x2="494.4" y2="436.2" stroke="#000" stroke-width="0.94"/>
<polygon points="494.4,390.2 495.7,396.2 493.1,396.2" fill="#000"/>
<polygon points="494.4,436.2 493.1,430.2 495.7,430.2" fill="#000"/>
<text transform="translate(492.4 412.6) rotate(-90)" font-size="11.2" text-anchor="middle" font-weight="bold" fill="#111" stroke="#111" stroke-width="0.4">ø130 h7</text>
<line x1="455.6" y1="407.6" x2="473.4" y2="407.6" stroke="#000" stroke-width="0.94"/>
<line x1="455.6" y1="418.8" x2="473.4" y2="418.8" stroke="#000" stroke-width="0.94"/>
<line x1="472.4" y1="398.0" x2="472.4" y2="456.7" stroke="#000" stroke-width="0.94"/>
<polygon points="472.4,407.6 471.1,401.6 473.7,401.6" fill="#000"/>
<polygon points="472.4,418.8 473.7,424.8 471.1,424.8" fill="#000"/>
<text transform="translate(470.5 441.5) rotate(-90)" font-size="11.2" text-anchor="middle" font-weight="bold" fill="#111" stroke="#111" stroke-width="0.4">ø30 j6</text>
<line x1="389.5" y1="413.2" x2="478.6" y2="413.2" stroke="#000" stroke-width="0.81" stroke-dasharray="7 2 1.5 2"/>
<line x1="414.7" y1="477.6" x2="455.6" y2="477.6" stroke="#000" stroke-width="0.94"/>
<polygon points="424.5,477.6 418.5,478.9 418.5,476.3" fill="#000"/>
<polygon points="434.0,477.6 440.0,476.3 440.0,478.9" fill="#000"/>
<text transform="translate(448.2 476.2)" font-size="11.2" text-anchor="middle" font-weight="bold" fill="#111" stroke="#111" stroke-width="0.4">30</text>
<line x1="424.5" y1="463.0" x2="424.5" y2="479.7" stroke="#000" stroke-width="0.94"/>
<line x1="424.5" y1="444.0" x2="424.5" y2="458.0" stroke="#000" stroke-width="0.68" stroke-dasharray="2 1"/>
<line x1="398.3" y1="371.0" x2="416.8" y2="371.0" stroke="#000" stroke-width="1.72"/>
<line x1="398.3" y1="373.6" x2="416.8" y2="373.6" stroke="#000" stroke-width="1.08"/>
<line x1="417.6" y1="371.0" x2="417.6" y2="447.2" stroke="#000" stroke-width="2.07"/>
<path d="M398.3,371.0 L396.8,386.4 L399.6,390.0 L392.6,392.2 L395.8,394.8 L395.8,417.9 L398.9,421.0 L392.0,423.2 L395.4,426.3 L396.3,449.3" stroke="#000" stroke-width="0.94" fill="none"/>
<line x1="396.3" y1="449.3" x2="424.1" y2="453.0" stroke="#000" stroke-width="0.94"/>
<path d="M418.4,446.2 L427.7,446.2 L427.7,452.9 L422.1,452.9 L422.1,446.2" stroke="#000" stroke-width="1.22" fill="none"/>
<line x1="426.9" y1="446.2" x2="426.9" y2="452.9" stroke="#000" stroke-width="1.61"/>
<text transform="translate(405.9 409.0)" font-size="11.8" text-anchor="middle" font-weight="bold" fill="#111" stroke="#111" stroke-width="0.4">/2</text>
<text transform="translate(405.9 426.3)" font-size="11.8" text-anchor="middle" font-weight="bold" fill="#111" stroke="#111" stroke-width="0.4">/3</text>
<line x1="430.4" y1="377.9" x2="430.4" y2="448.5" stroke="#000" stroke-width="2.3"/>
<line x1="429.8" y1="377.9" x2="432.5" y2="377.9" stroke="#000" stroke-width="1.08"/>
<line x1="429.8" y1="448.5" x2="432.5" y2="448.5" stroke="#000" stroke-width="1.08"/>
<path d="M418.4,389.6 L424.1,389.6 Q428.1,388.7 429.5,386.7" stroke="#000" stroke-width="1.08" fill="none"/>
<path d="M418.4,436.8 L424.1,436.8 Q428.1,437.7 429.5,439.7" stroke="#000" stroke-width="1.08" fill="none"/>
<line x1="424.1" y1="389.6" x2="424.1" y2="436.8" stroke="#000" stroke-width="0.94"/>
<line x1="420.7" y1="389.6" x2="420.7" y2="436.8" stroke="#000" stroke-width="1.38"/>
<line x1="418.4" y1="394.2" x2="424.1" y2="394.2" stroke="#000" stroke-width="0.81"/>
<line x1="418.4" y1="397.2" x2="424.1" y2="397.2" stroke="#000" stroke-width="0.81"/>
<line x1="418.4" y1="429.2" x2="424.1" y2="429.2" stroke="#000" stroke-width="0.81"/>
<line x1="418.4" y1="432.2" x2="424.1" y2="432.2" stroke="#000" stroke-width="0.81"/>
<line x1="424.1" y1="400.2" x2="429.5" y2="400.2" stroke="#000" stroke-width="0.81"/>
<line x1="424.1" y1="407.6" x2="429.5" y2="407.6" stroke="#000" stroke-width="0.81"/>
<line x1="424.1" y1="418.8" x2="429.5" y2="418.8" stroke="#000" stroke-width="0.81"/>
<line x1="424.1" y1="426.2" x2="429.5" y2="426.2" stroke="#000" stroke-width="0.81"/>
<line x1="540.9" y1="371.7" x2="610.4" y2="371.7" stroke="#000" stroke-width="1.35"/>
<line x1="540.9" y1="374.1" x2="610.4" y2="374.1" stroke="#000" stroke-width="1.35"/>
<line x1="553.9" y1="370.4" x2="563.0" y2="370.4" stroke="#000" stroke-width="1.61"/>
<line x1="574.2" y1="370.4" x2="598.0" y2="370.4" stroke="#000" stroke-width="1.61"/>
<line x1="540.9" y1="371.7" x2="540.9" y2="453.8" stroke="#000" stroke-width="1.08"/>
<line x1="610.4" y1="371.7" x2="610.4" y2="453.8" stroke="#000" stroke-width="1.08"/>
<line x1="545.5" y1="374.1" x2="545.5" y2="447.1" stroke="#000" stroke-width="2.07"/>
<line x1="606.5" y1="374.1" x2="606.5" y2="447.1" stroke="#000" stroke-width="1.84"/>
<line x1="543.7" y1="374.1" x2="543.7" y2="453.8" stroke="#000" stroke-width="0.81"/>
<line x1="608.2" y1="374.1" x2="608.2" y2="453.8" stroke="#000" stroke-width="0.81"/>
<line x1="540.9" y1="453.8" x2="562.3" y2="453.8" stroke="#000" stroke-width="1.35"/>
<line x1="589.5" y1="453.8" x2="610.4" y2="453.8" stroke="#000" stroke-width="1.35"/>
<line x1="545.5" y1="447.1" x2="562.3" y2="447.1" stroke="#000" stroke-width="1.35"/>
<line x1="589.5" y1="447.1" x2="606.5" y2="447.1" stroke="#000" stroke-width="1.35"/>
<line x1="562.3" y1="445.1" x2="562.3" y2="453.8" stroke="#000" stroke-width="1.84"/>
<line x1="589.5" y1="445.1" x2="589.5" y2="453.8" stroke="#000" stroke-width="1.84"/>
<rect x="541.2" y="451.4" width="2.2" height="2.2" stroke="#000" stroke-width="0.81" fill="none"/>
<rect x="608.0" y="451.4" width="2.2" height="2.2" stroke="#000" stroke-width="0.81" fill="none"/>
<rect x="541.4" y="372.1" width="2.0" height="2.0" stroke="#000" stroke-width="0.68" fill="none"/>
<rect x="608.0" y="372.1" width="2.0" height="2.0" stroke="#000" stroke-width="0.68" fill="none"/>
<line x1="548.3" y1="445.1" x2="556.6" y2="445.1" stroke="#000" stroke-width="2.76"/>
<line x1="594.7" y1="445.1" x2="603.0" y2="445.1" stroke="#000" stroke-width="2.76"/>
<line x1="597.6" y1="447.1" x2="597.6" y2="453.8" stroke="#000" stroke-width="0.81"/>
<line x1="602.8" y1="447.1" x2="602.8" y2="453.8" stroke="#000" stroke-width="0.81"/>
<line x1="550.8" y1="447.1" x2="550.8" y2="453.8" stroke="#000" stroke-width="0.81"/>
<line x1="553.1" y1="447.1" x2="553.1" y2="453.8" stroke="#000" stroke-width="0.81"/>
<line x1="555.6" y1="447.1" x2="555.6" y2="453.8" stroke="#000" stroke-width="0.81"/>
<rect x="536.8" y="392.1" width="4.0" height="6.8" stroke="#000" stroke-width="1.08" fill="none"/>
<rect x="610.4" y="392.1" width="2.8" height="6.8" stroke="#000" stroke-width="1.08" fill="none"/>
<line x1="538.2" y1="392.1" x2="538.2" y2="398.9" stroke="#000" stroke-width="0.68"/>
<rect x="536.8" y="430.9" width="4.0" height="6.8" stroke="#000" stroke-width="1.08" fill="none"/>
<rect x="610.4" y="430.9" width="2.8" height="6.8" stroke="#000" stroke-width="1.08" fill="none"/>
<line x1="538.2" y1="430.9" x2="538.2" y2="437.7" stroke="#000" stroke-width="0.68"/>
<path d="M548.3,444.8 L548.3,419.0 L552.1,419.0 L562.7,432.8" stroke="#000" stroke-width="1.61" fill="none"/>
<path d="M551.1,444.8 L551.1,422.3 L562.2,436.0" stroke="#000" stroke-width="0.94" fill="none"/>
<path d="M566.2,434.8 L559.1,446.1" stroke="#000" stroke-width="1.26" fill="none"/>
<path d="M564.4,434.8 L556.9,446.1" stroke="#000" stroke-width="1.08" fill="none"/>
<path d="M568.1,436.0 L561.1,446.1" stroke="#000" stroke-width="1.26" fill="none"/>
<path d="M570.0,436.0 L562.3,446.1" stroke="#000" stroke-width="1.08" fill="none"/>
<path d="M569.9,436.0 L571.2,434.1" stroke="#000" stroke-width="1.08" fill="none"/>
<path d="M603.1,444.8 L603.1,419.0 L599.3,419.0 L588.7,432.8" stroke="#000" stroke-width="1.61" fill="none"/>
<path d="M600.3,444.8 L600.3,422.3 L589.2,436.0" stroke="#000" stroke-width="0.94" fill="none"/>
<path d="M585.2,434.8 L592.3,446.1" stroke="#000" stroke-width="1.26" fill="none"/>
<path d="M587.0,434.8 L594.5,446.1" stroke="#000" stroke-width="1.08" fill="none"/>
<path d="M583.3,436.0 L590.3,446.1" stroke="#000" stroke-width="1.26" fill="none"/>
<path d="M581.4,436.0 L589.1,446.1" stroke="#000" stroke-width="1.08" fill="none"/>
<path d="M581.5,436.0 L580.2,434.1" stroke="#000" stroke-width="1.08" fill="none"/>
<path d="M569.7,435.8 Q575.7,434.0 581.7,435.8" stroke="#000" stroke-width="1.08" fill="none"/>
<circle cx="575.7" cy="413.2" r="43.9" stroke="#000" stroke-width="1.01" fill="#fff"/>
<circle cx="575.7" cy="413.2" r="38.2" stroke="#000" stroke-width="0.68" fill="none" stroke-dasharray="5 2 1 2"/>
<circle cx="575.7" cy="413.2" r="16.6" stroke="#000" stroke-width="1.01" fill="none"/>
<circle cx="575.7" cy="413.2" r="13.6" stroke="#000" stroke-width="1.01" fill="none"/>
<circle cx="575.7" cy="413.2" r="23.6" stroke="#000" stroke-width="0.68" fill="none" stroke-dasharray="5 2 1 2"/>
<circle cx="575.7" cy="413.2" r="6.9" stroke="#000" stroke-width="1.72" fill="none"/>
<circle cx="575.7" cy="413.2" r="3.6" stroke="#000" stroke-width="1.35" fill="#333"/>
<circle cx="599.1" cy="413.2" r="3.0" stroke="#000" stroke-width="1.35" fill="#888"/>
<circle cx="599.1" cy="413.2" r="1.5" stroke="#000" stroke-width="1.08" fill="#ccc"/>
<circle cx="552.3" cy="413.2" r="3.0" stroke="#000" stroke-width="1.35" fill="#888"/>
<circle cx="552.3" cy="413.2" r="1.5" stroke="#000" stroke-width="1.08" fill="#ccc"/>
<circle cx="585.6" cy="392.0" r="3.0" stroke="#000" stroke-width="1.35" fill="#888"/>
<circle cx="585.6" cy="392.0" r="1.5" stroke="#000" stroke-width="1.08" fill="#ccc"/>
<circle cx="565.8" cy="392.0" r="3.0" stroke="#000" stroke-width="1.35" fill="#888"/>
<circle cx="565.8" cy="392.0" r="1.5" stroke="#000" stroke-width="1.08" fill="#ccc"/>
<circle cx="585.6" cy="434.4" r="3.0" stroke="#000" stroke-width="1.35" fill="#888"/>
<circle cx="585.6" cy="434.4" r="1.5" stroke="#000" stroke-width="1.08" fill="#ccc"/>
<circle cx="565.8" cy="434.4" r="3.0" stroke="#000" stroke-width="1.35" fill="#888"/>
<circle cx="565.8" cy="434.4" r="1.5" stroke="#000" stroke-width="1.08" fill="#ccc"/>
<line x1="581.0" y1="418.5" x2="585.2" y2="422.7" stroke="#000" stroke-width="0.68"/>
<circle cx="602.7" cy="440.2" r="2.1" stroke="#000" stroke-width="0.81" fill="#ddd"/>
<line x1="600.5" y1="438.0" x2="604.9" y2="442.4" stroke="#000" stroke-width="0.61"/>
<line x1="600.5" y1="442.4" x2="604.9" y2="438.0" stroke="#000" stroke-width="0.61"/>
<line x1="570.4" y1="418.5" x2="566.2" y2="422.7" stroke="#000" stroke-width="0.68"/>
<circle cx="548.7" cy="440.2" r="2.1" stroke="#000" stroke-width="0.81" fill="#ddd"/>
<line x1="546.5" y1="438.0" x2="550.9" y2="442.4" stroke="#000" stroke-width="0.61"/>
<line x1="546.5" y1="442.4" x2="550.9" y2="438.0" stroke="#000" stroke-width="0.61"/>
<line x1="570.4" y1="407.9" x2="566.2" y2="403.7" stroke="#000" stroke-width="0.68"/>
<circle cx="548.7" cy="386.2" r="2.1" stroke="#000" stroke-width="0.81" fill="#ddd"/>
<line x1="546.5" y1="384.0" x2="550.9" y2="388.4" stroke="#000" stroke-width="0.61"/>
<line x1="546.5" y1="388.4" x2="550.9" y2="384.0" stroke="#000" stroke-width="0.61"/>
<line x1="581.0" y1="407.9" x2="585.2" y2="403.7" stroke="#000" stroke-width="0.68"/>
<circle cx="602.7" cy="386.2" r="2.1" stroke="#000" stroke-width="0.81" fill="#ddd"/>
<line x1="600.5" y1="384.0" x2="604.9" y2="388.4" stroke="#000" stroke-width="0.61"/>
<line x1="600.5" y1="388.4" x2="604.9" y2="384.0" stroke="#000" stroke-width="0.61"/>
<line x1="610.4" y1="439.2" x2="610.4" y2="453.8" stroke="#000" stroke-width="1.08"/>
<line x1="610.4" y1="453.8" x2="594.7" y2="453.8" stroke="#000" stroke-width="1.22"/>
<line x1="603.5" y1="445.7" x2="603.5" y2="453.5" stroke="#000" stroke-width="2.07"/>
<line x1="598.3" y1="445.7" x2="598.3" y2="453.5" stroke="#000" stroke-width="2.07"/>
<line x1="600.9" y1="443.2" x2="600.9" y2="453.5" stroke="#000" stroke-width="0.81"/>
<line x1="606.7" y1="451.7" x2="609.7" y2="451.7" stroke="#000" stroke-width="1.84"/>
<line x1="541.0" y1="439.2" x2="541.0" y2="453.8" stroke="#000" stroke-width="1.08"/>
<line x1="541.0" y1="453.8" x2="556.7" y2="453.8" stroke="#000" stroke-width="1.22"/>
<line x1="547.9" y1="445.7" x2="547.9" y2="453.5" stroke="#000" stroke-width="2.07"/>
<line x1="553.1" y1="445.7" x2="553.1" y2="453.5" stroke="#000" stroke-width="2.07"/>
<line x1="550.5" y1="443.2" x2="550.5" y2="453.5" stroke="#000" stroke-width="0.81"/>
<line x1="544.7" y1="451.7" x2="541.7" y2="451.7" stroke="#000" stroke-width="1.84"/>
<line x1="575.7" y1="354.7" x2="575.7" y2="466.2" stroke="#000" stroke-width="0.81" stroke-dasharray="7 2 1.5 2"/>
<path d="M575.7,354.2 A59.0,59.0 0 0 1 617.4,454.9" stroke="#000" stroke-width="0.94" fill="none"/>
<polygon points="575.7,354.2 581.7,353.1 581.7,355.7" fill="#000"/>
<polygon points="617.4,371.5 612.1,368.3 613.9,366.4" fill="#000"/>
<polygon points="617.4,371.5 622.5,375.0 620.6,376.8" fill="#000"/>
<polygon points="617.4,454.9 620.6,449.6 622.5,451.4" fill="#000"/>
<line x1="581.4" y1="407.5" x2="620.6" y2="368.3" stroke="#000" stroke-width="0.81"/>
<line x1="581.4" y1="418.9" x2="620.6" y2="458.1" stroke="#000" stroke-width="0.81"/>
<line x1="527.0" y1="413.2" x2="625.0" y2="413.2" stroke="#000" stroke-width="0.81" stroke-dasharray="7 2 1.5 2"/>
<text transform="translate(604.2 356.4)" font-size="11.2" text-anchor="middle" font-weight="bold" fill="#111" stroke="#111" stroke-width="0.4">45°</text>
<text transform="translate(634.7 380.2)" font-size="11.2" text-anchor="middle" font-weight="bold" fill="#111" stroke="#111" stroke-width="0.4">90°</text>
<text transform="translate(532.2 351.2)" font-size="11.2" text-anchor="middle" font-weight="bold" fill="#111" stroke="#111" stroke-width="0.4">14</text>
<line x1="525.6" y1="353.5" x2="561.6" y2="353.5" stroke="#000" stroke-width="0.94"/>
<polygon points="546.3,353.5 540.3,354.8 540.3,352.2" fill="#000"/>
<polygon points="551.2,353.5 557.2,352.2 557.2,354.8" fill="#000"/>
<line x1="546.3" y1="352.0" x2="546.3" y2="386.4" stroke="#000" stroke-width="0.94"/>
<line x1="551.2" y1="352.0" x2="551.2" y2="386.4" stroke="#000" stroke-width="0.94"/>
<line x1="515.9" y1="369.6" x2="574.2" y2="369.6" stroke="#000" stroke-width="0.94"/>
<line x1="515.9" y1="457.1" x2="574.2" y2="457.1" stroke="#000" stroke-width="0.94"/>
<line x1="519.7" y1="369.6" x2="519.7" y2="457.1" stroke="#000" stroke-width="0.94"/>
<polygon points="519.7,369.6 521.0,375.6 518.4,375.6" fill="#000"/>
<polygon points="519.7,457.1 518.4,451.1 521.0,451.1" fill="#000"/>
<text transform="translate(517.7 413.2) rotate(-90)" font-size="11.2" text-anchor="middle" font-weight="bold" fill="#111" stroke="#111" stroke-width="0.4">250</text>
<line x1="537.5" y1="476.0" x2="614.1" y2="476.0" stroke="#000" stroke-width="0.94"/>
<polygon points="537.5,476.0 543.5,474.7 543.5,477.3" fill="#000"/>
<polygon points="614.1,476.0 608.1,477.3 608.1,474.7" fill="#000"/>
<line x1="537.5" y1="440.0" x2="537.5" y2="478.7" stroke="#000" stroke-width="0.94"/>
<line x1="614.1" y1="440.0" x2="614.1" y2="478.7" stroke="#000" stroke-width="0.94"/>
<text transform="translate(575.7 473.8)" font-size="11.2" text-anchor="middle" font-weight="bold" fill="#111" stroke="#111" stroke-width="0.4">215</text>
<line x1="658.5" y1="344.4" x2="705.7" y2="344.4" stroke="#000" stroke-width="0.94"/>
<polygon points="679.9,344.4 673.9,345.7 673.9,343.1" fill="#000"/>
<polygon points="682.6,344.4 688.6,343.1 688.6,345.7" fill="#000"/>
<polygon points="705.7,344.4 699.7,345.7 699.7,343.1" fill="#000"/>
<text transform="translate(669.0 343.5)" font-size="11.2" text-anchor="middle" font-weight="bold" fill="#111" stroke="#111" stroke-width="0.4">10</text>
<text transform="translate(694.1 343.5)" font-size="11.2" text-anchor="middle" font-weight="bold" fill="#111" stroke="#111" stroke-width="0.4">65</text>
<line x1="674.2" y1="360.2" x2="705.7" y2="360.2" stroke="#000" stroke-width="0.94"/>
<polygon points="682.6,360.2 676.6,361.5 676.6,358.9" fill="#000"/>
<polygon points="684.1,360.2 690.1,358.9 690.1,361.5" fill="#000"/>
<text transform="translate(695.2 359.3)" font-size="11.2" text-anchor="middle" font-weight="bold" fill="#111" stroke="#111" stroke-width="0.4">3.5</text>
<line x1="679.9" y1="343.0" x2="679.9" y2="369.2" stroke="#000" stroke-width="0.94"/>
<line x1="682.6" y1="343.0" x2="682.6" y2="457.2" stroke="#000" stroke-width="1.08"/>
<line x1="684.1" y1="358.5" x2="684.1" y2="479.7" stroke="#000" stroke-width="0.94"/>
<line x1="705.7" y1="343.0" x2="705.7" y2="418.8" stroke="#000" stroke-width="0.94"/>
<line x1="686.2" y1="407.6" x2="705.7" y2="407.6" stroke="#000" stroke-width="1.49"/>
<line x1="684.1" y1="418.8" x2="705.7" y2="418.8" stroke="#000" stroke-width="1.22"/>
<line x1="684.1" y1="407.6" x2="686.2" y2="407.6" stroke="#000" stroke-width="0.94"/>
<line x1="684.1" y1="381.4" x2="746.6" y2="381.4" stroke="#000" stroke-width="0.94"/>
<line x1="684.1" y1="445.0" x2="703.6" y2="445.0" stroke="#000" stroke-width="0.94"/>
<line x1="729.8" y1="445.0" x2="746.6" y2="445.0" stroke="#000" stroke-width="0.94"/>
<line x1="744.5" y1="381.0" x2="744.5" y2="445.0" stroke="#000" stroke-width="0.94"/>
<polygon points="744.5,381.4 745.8,387.4 743.2,387.4" fill="#000"/>
<polygon points="744.5,445.0 743.2,439.0 745.8,439.0" fill="#000"/>
<text transform="translate(742.5 413.0) rotate(-90)" font-size="11.2" text-anchor="middle" font-weight="bold" fill="#111" stroke="#111" stroke-width="0.4">ø180 h7</text>
<line x1="705.7" y1="407.6" x2="723.5" y2="407.6" stroke="#000" stroke-width="0.94"/>
<line x1="705.7" y1="418.8" x2="723.5" y2="418.8" stroke="#000" stroke-width="0.94"/>
<line x1="722.5" y1="398.0" x2="722.5" y2="456.7" stroke="#000" stroke-width="0.94"/>
<polygon points="722.5,407.6 721.2,401.6 723.8,401.6" fill="#000"/>
<polygon points="722.5,418.8 723.8,424.8 721.2,424.8" fill="#000"/>
<text transform="translate(720.6 441.5) rotate(-90)" font-size="11.2" text-anchor="middle" font-weight="bold" fill="#111" stroke="#111" stroke-width="0.4">ø30 j6</text>
<line x1="639.6" y1="413.2" x2="728.7" y2="413.2" stroke="#000" stroke-width="0.81" stroke-dasharray="7 2 1.5 2"/>
<line x1="664.8" y1="477.6" x2="705.7" y2="477.6" stroke="#000" stroke-width="0.94"/>
<polygon points="674.6,477.6 668.6,478.9 668.6,476.3" fill="#000"/>
<polygon points="684.1,477.6 690.1,476.3 690.1,478.9" fill="#000"/>
<text transform="translate(698.3 476.2)" font-size="11.2" text-anchor="middle" font-weight="bold" fill="#111" stroke="#111" stroke-width="0.4">30</text>
<line x1="674.6" y1="463.0" x2="674.6" y2="479.7" stroke="#000" stroke-width="0.94"/>
<line x1="674.6" y1="444.0" x2="674.6" y2="458.0" stroke="#000" stroke-width="0.68" stroke-dasharray="2 1"/>
<line x1="648.4" y1="371.0" x2="666.9" y2="371.0" stroke="#000" stroke-width="1.72"/>
<line x1="648.4" y1="373.6" x2="666.9" y2="373.6" stroke="#000" stroke-width="1.08"/>
<line x1="667.7" y1="371.0" x2="667.7" y2="447.2" stroke="#000" stroke-width="2.07"/>
<path d="M648.4,371.0 L646.9,386.4 L649.7,390.0 L642.7,392.2 L645.9,394.8 L645.9,417.9 L649.0,421.0 L642.1,423.2 L645.5,426.3 L646.4,449.3" stroke="#000" stroke-width="0.94" fill="none"/>
<line x1="646.4" y1="449.3" x2="674.2" y2="453.0" stroke="#000" stroke-width="0.94"/>
<path d="M668.5,446.2 L677.8,446.2 L677.8,452.9 L672.2,452.9 L672.2,446.2" stroke="#000" stroke-width="1.22" fill="none"/>
<line x1="677.0" y1="446.2" x2="677.0" y2="452.9" stroke="#000" stroke-width="1.61"/>
<text transform="translate(656.0 409.0)" font-size="11.8" text-anchor="middle" font-weight="bold" fill="#111" stroke="#111" stroke-width="0.4">/2</text>
<text transform="translate(656.0 426.3)" font-size="11.8" text-anchor="middle" font-weight="bold" fill="#111" stroke="#111" stroke-width="0.4">/3</text>
<line x1="680.5" y1="369.2" x2="680.5" y2="457.2" stroke="#000" stroke-width="2.3"/>
<line x1="679.9" y1="369.2" x2="682.6" y2="369.2" stroke="#000" stroke-width="1.08"/>
<line x1="679.9" y1="457.2" x2="682.6" y2="457.2" stroke="#000" stroke-width="1.08"/>
<path d="M668.5,389.6 L674.2,389.6 Q678.2,388.7 679.6,386.7" stroke="#000" stroke-width="1.08" fill="none"/>
<path d="M668.5,436.8 L674.2,436.8 Q678.2,437.7 679.6,439.7" stroke="#000" stroke-width="1.08" fill="none"/>
<line x1="674.2" y1="389.6" x2="674.2" y2="436.8" stroke="#000" stroke-width="0.94"/>
<line x1="670.8" y1="389.6" x2="670.8" y2="436.8" stroke="#000" stroke-width="1.38"/>
<line x1="668.5" y1="394.2" x2="674.2" y2="394.2" stroke="#000" stroke-width="0.81"/>
<line x1="668.5" y1="397.2" x2="674.2" y2="397.2" stroke="#000" stroke-width="0.81"/>
<line x1="668.5" y1="429.2" x2="674.2" y2="429.2" stroke="#000" stroke-width="0.81"/>
<line x1="668.5" y1="432.2" x2="674.2" y2="432.2" stroke="#000" stroke-width="0.81"/>
<line x1="674.2" y1="400.2" x2="679.6" y2="400.2" stroke="#000" stroke-width="0.81"/>
<line x1="674.2" y1="407.6" x2="679.6" y2="407.6" stroke="#000" stroke-width="0.81"/>
<line x1="674.2" y1="418.8" x2="679.6" y2="418.8" stroke="#000" stroke-width="0.81"/>
<line x1="674.2" y1="426.2" x2="679.6" y2="426.2" stroke="#000" stroke-width="0.81"/>
<rect x="194.2" y="517.8" width="392.6" height="192.0" stroke="#000" stroke-width="1.08" fill="none"/>
<text transform="translate(207.4 541.6)" font-size="10" text-anchor="start" font-weight="bold" fill="#111" stroke="#111" stroke-width="0.4" textLength="63.0" lengthAdjust="spacingAndGlyphs">Выходной вал</text>
<text transform="translate(350.1 542.8)" font-size="10" text-anchor="start" font-weight="bold" fill="#111" stroke="#111" stroke-width="0.4" textLength="104.2" lengthAdjust="spacingAndGlyphs">Входной полый вал</text>
<text transform="translate(501.6 542.8)" font-size="10" text-anchor="start" font-weight="bold" fill="#111" stroke="#111" stroke-width="0.4" textLength="71.0" lengthAdjust="spacingAndGlyphs">Входной  вал</text>
<circle cx="258.7" cy="614.1" r="29.2" stroke="#000" stroke-width="1.01" fill="none"/>
<circle cx="258.7" cy="614.1" r="6.7" stroke="#000" stroke-width="1.49" fill="none"/>
<line x1="250.4" y1="559.3" x2="250.4" y2="585.8" stroke="#000" stroke-width="1.08"/>
<line x1="266.7" y1="559.3" x2="266.7" y2="585.8" stroke="#000" stroke-width="1.08"/>
<line x1="250.4" y1="578.8" x2="266.7" y2="578.8" stroke="#000" stroke-width="1.08"/>
<line x1="242.3" y1="562.5" x2="311.2" y2="562.5" stroke="#000" stroke-width="0.94"/>
<polygon points="250.4,562.5 244.4,563.8 244.4,561.2" fill="#000"/>
<polygon points="266.7,562.5 272.7,561.2 272.7,563.8" fill="#000"/>
<text transform="translate(282.5 558.7)" font-size="11.2" text-anchor="middle" font-weight="bold" fill="#111" stroke="#111" stroke-width="0.4">8</text>
<line x1="258.7" y1="559.3" x2="258.7" y2="675.0" stroke="#000" stroke-width="0.94"/>
<line x1="220.0" y1="614.1" x2="295.4" y2="614.1" stroke="#000" stroke-width="0.94"/>
<line x1="206.5" y1="578.8" x2="250.4" y2="578.8" stroke="#000" stroke-width="0.94"/>
<line x1="206.5" y1="643.3" x2="256.7" y2="643.3" stroke="#000" stroke-width="0.94"/>
<line x1="209.4" y1="578.8" x2="209.4" y2="643.3" stroke="#000" stroke-width="0.94"/>
<polygon points="209.4,578.8 210.7,584.8 208.1,584.8" fill="#000"/>
<polygon points="209.4,643.3 208.1,637.3 210.7,637.3" fill="#000"/>
<text transform="translate(205.2 614.1) rotate(-90)" font-size="11.2" text-anchor="middle" font-weight="bold" fill="#111" stroke="#111" stroke-width="0.4">33</text>
<line x1="251.8" y1="620.4" x2="251.8" y2="670.6" stroke="#000" stroke-width="1.08"/>
<line x1="264.7" y1="620.4" x2="264.7" y2="670.6" stroke="#000" stroke-width="1.08"/>
<line x1="242.3" y1="667.7" x2="326.9" y2="667.7" stroke="#000" stroke-width="0.94"/>
<polygon points="251.8,667.7 245.8,669.0 245.8,666.4" fill="#000"/>
<polygon points="264.7,667.7 270.7,666.4 270.7,669.0" fill="#000"/>
<text transform="translate(308.0 664.8)" font-size="11.2" text-anchor="middle" font-weight="bold" fill="#111" stroke="#111" stroke-width="0.4" textLength="35.0" lengthAdjust="spacingAndGlyphs">M8x20</text>
<line x1="228.9" y1="614.1" x2="228.9" y2="696.4" stroke="#000" stroke-width="0.94"/>
<line x1="287.7" y1="614.1" x2="287.7" y2="696.4" stroke="#000" stroke-width="0.94"/>
<line x1="228.9" y1="695.0" x2="287.7" y2="695.0" stroke="#000" stroke-width="0.94"/>
<polygon points="228.9,695.0 234.9,693.7 234.9,696.3" fill="#000"/>
<polygon points="287.7,695.0 281.7,696.3 281.7,693.7" fill="#000"/>
<text transform="translate(261.8 690.0)" font-size="10.5" text-anchor="middle" font-weight="bold" fill="#111" stroke="#111" stroke-width="0.4" textLength="30.0" lengthAdjust="spacingAndGlyphs">30 j6</text>
<circle cx="393.4" cy="614.1" r="26.3" stroke="#000" stroke-width="1.01" fill="none"/>
<path d="M388.4,602.1 A13,13 0 1 0 398.3,602.1 L398.3,598.6 L388.4,598.6 Z" stroke="#000" stroke-width="1.08" fill="none"/>
<line x1="388.4" y1="598.6" x2="398.3" y2="598.6" stroke="#000" stroke-width="1.72"/>
<line x1="388.4" y1="574.9" x2="388.4" y2="598.6" stroke="#000" stroke-width="0.94"/>
<line x1="398.3" y1="574.9" x2="398.3" y2="598.6" stroke="#000" stroke-width="0.94"/>
<line x1="379.9" y1="575.9" x2="408.6" y2="575.9" stroke="#000" stroke-width="0.94"/>
<polygon points="388.4,575.9 382.4,577.2 382.4,574.6" fill="#000"/>
<polygon points="398.3,575.9 404.3,574.6 404.3,577.2" fill="#000"/>
<text transform="translate(393.4 573.2)" font-size="11.2" text-anchor="middle" font-weight="bold" fill="#111" stroke="#111" stroke-width="0.4">G2</text>
<line x1="398.2" y1="598.6" x2="447.5" y2="598.6" stroke="#000" stroke-width="0.94"/>
<line x1="395.8" y1="626.6" x2="447.5" y2="626.6" stroke="#000" stroke-width="0.94"/>
<line x1="445.8" y1="598.6" x2="445.8" y2="626.6" stroke="#000" stroke-width="0.94"/>
<polygon points="445.8,598.6 447.1,604.6 444.5,604.6" fill="#000"/>
<polygon points="445.8,626.6 444.5,620.6 447.1,620.6" fill="#000"/>
<text transform="translate(441.6 612.4) rotate(-90)" font-size="11.2" text-anchor="middle" font-weight="bold" fill="#111" stroke="#111" stroke-width="0.4">G1</text>
<line x1="379.9" y1="618.2" x2="379.9" y2="668.9" stroke="#000" stroke-width="0.94"/>
<line x1="406.6" y1="618.2" x2="406.6" y2="668.9" stroke="#000" stroke-width="0.94"/>
<line x1="370.4" y1="667.2" x2="450.6" y2="667.2" stroke="#000" stroke-width="0.94"/>
<polygon points="379.9,667.2 373.9,668.5 373.9,665.9" fill="#000"/>
<polygon points="406.6,667.2 412.6,665.9 412.6,668.5" fill="#000"/>
<text transform="translate(434.7 663.8)" font-size="11.2" text-anchor="middle" font-weight="bold" fill="#111" stroke="#111" stroke-width="0.4">G (F7)</text>
<line x1="393.4" y1="575.0" x2="393.4" y2="668.9" stroke="#000" stroke-width="0.94"/>
<line x1="362.0" y1="614.1" x2="425.2" y2="614.1" stroke="#000" stroke-width="0.94"/>
<circle cx="535.1" cy="611.3" r="18.8" stroke="#000" stroke-width="1.01" fill="none"/>
<circle cx="535.1" cy="611.3" r="2.9" stroke="#000" stroke-width="1.38" fill="none"/>
<line x1="530.3" y1="577.6" x2="530.3" y2="593.4" stroke="#000" stroke-width="1.08"/>
<line x1="539.5" y1="577.6" x2="539.5" y2="593.4" stroke="#000" stroke-width="1.08"/>
<rect x="530.3" y="590.1" width="9.2" height="3.3" stroke="#000" stroke-width="1.08" fill="none"/>
<line x1="522.6" y1="579.3" x2="567.2" y2="579.3" stroke="#000" stroke-width="0.94"/>
<polygon points="530.3,579.3 524.3,580.6 524.3,578.0" fill="#000"/>
<polygon points="539.5,579.3 545.5,578.0 545.5,580.6" fill="#000"/>
<text transform="translate(556.4 575.9)" font-size="11.2" text-anchor="middle" font-weight="bold" fill="#111" stroke="#111" stroke-width="0.4">6</text>
<line x1="502.3" y1="590.1" x2="530.3" y2="590.1" stroke="#000" stroke-width="0.94"/>
<line x1="502.3" y1="630.0" x2="534.4" y2="630.0" stroke="#000" stroke-width="0.94"/>
<line x1="504.7" y1="590.1" x2="504.7" y2="630.0" stroke="#000" stroke-width="0.94"/>
<polygon points="504.7,590.1 506.0,596.1 503.4,596.1" fill="#000"/>
<polygon points="504.7,630.0 503.4,624.0 506.0,624.0" fill="#000"/>
<text transform="translate(500.8 608.0) rotate(-90)" font-size="11.2" text-anchor="middle" font-weight="bold" fill="#111" stroke="#111" stroke-width="0.4">21,5</text>
<line x1="532.0" y1="616.5" x2="532.0" y2="648.6" stroke="#000" stroke-width="1.08"/>
<line x1="538.5" y1="616.5" x2="538.5" y2="648.6" stroke="#000" stroke-width="1.08"/>
<line x1="520.9" y1="646.3" x2="572.6" y2="646.3" stroke="#000" stroke-width="0.94"/>
<polygon points="532.0,646.3 526.0,647.6 526.0,645.0" fill="#000"/>
<polygon points="538.5,646.3 544.5,645.0 544.5,647.6" fill="#000"/>
<text transform="translate(563.8 642.9)" font-size="11.2" text-anchor="middle" font-weight="bold" fill="#111" stroke="#111" stroke-width="0.4">M5</text>
<line x1="516.5" y1="611.3" x2="516.5" y2="668.2" stroke="#000" stroke-width="0.94"/>
<line x1="553.7" y1="611.3" x2="553.7" y2="668.2" stroke="#000" stroke-width="0.94"/>
<line x1="516.5" y1="666.5" x2="553.7" y2="666.5" stroke="#000" stroke-width="0.94"/>
<polygon points="516.5,666.5 522.5,665.2 522.5,667.8" fill="#000"/>
<polygon points="553.7,666.5 547.7,667.8 547.7,665.2" fill="#000"/>
<text transform="translate(533.4 663.8)" font-size="11.2" text-anchor="middle" font-weight="bold" fill="#111" stroke="#111" stroke-width="0.4" textLength="30.0" lengthAdjust="spacingAndGlyphs">19 (j6)</text>
<line x1="535.1" y1="577.6" x2="535.1" y2="648.6" stroke="#000" stroke-width="0.94"/>
<line x1="510.7" y1="611.3" x2="559.8" y2="611.3" stroke="#000" stroke-width="0.94"/>
</svg>
</body></html>
